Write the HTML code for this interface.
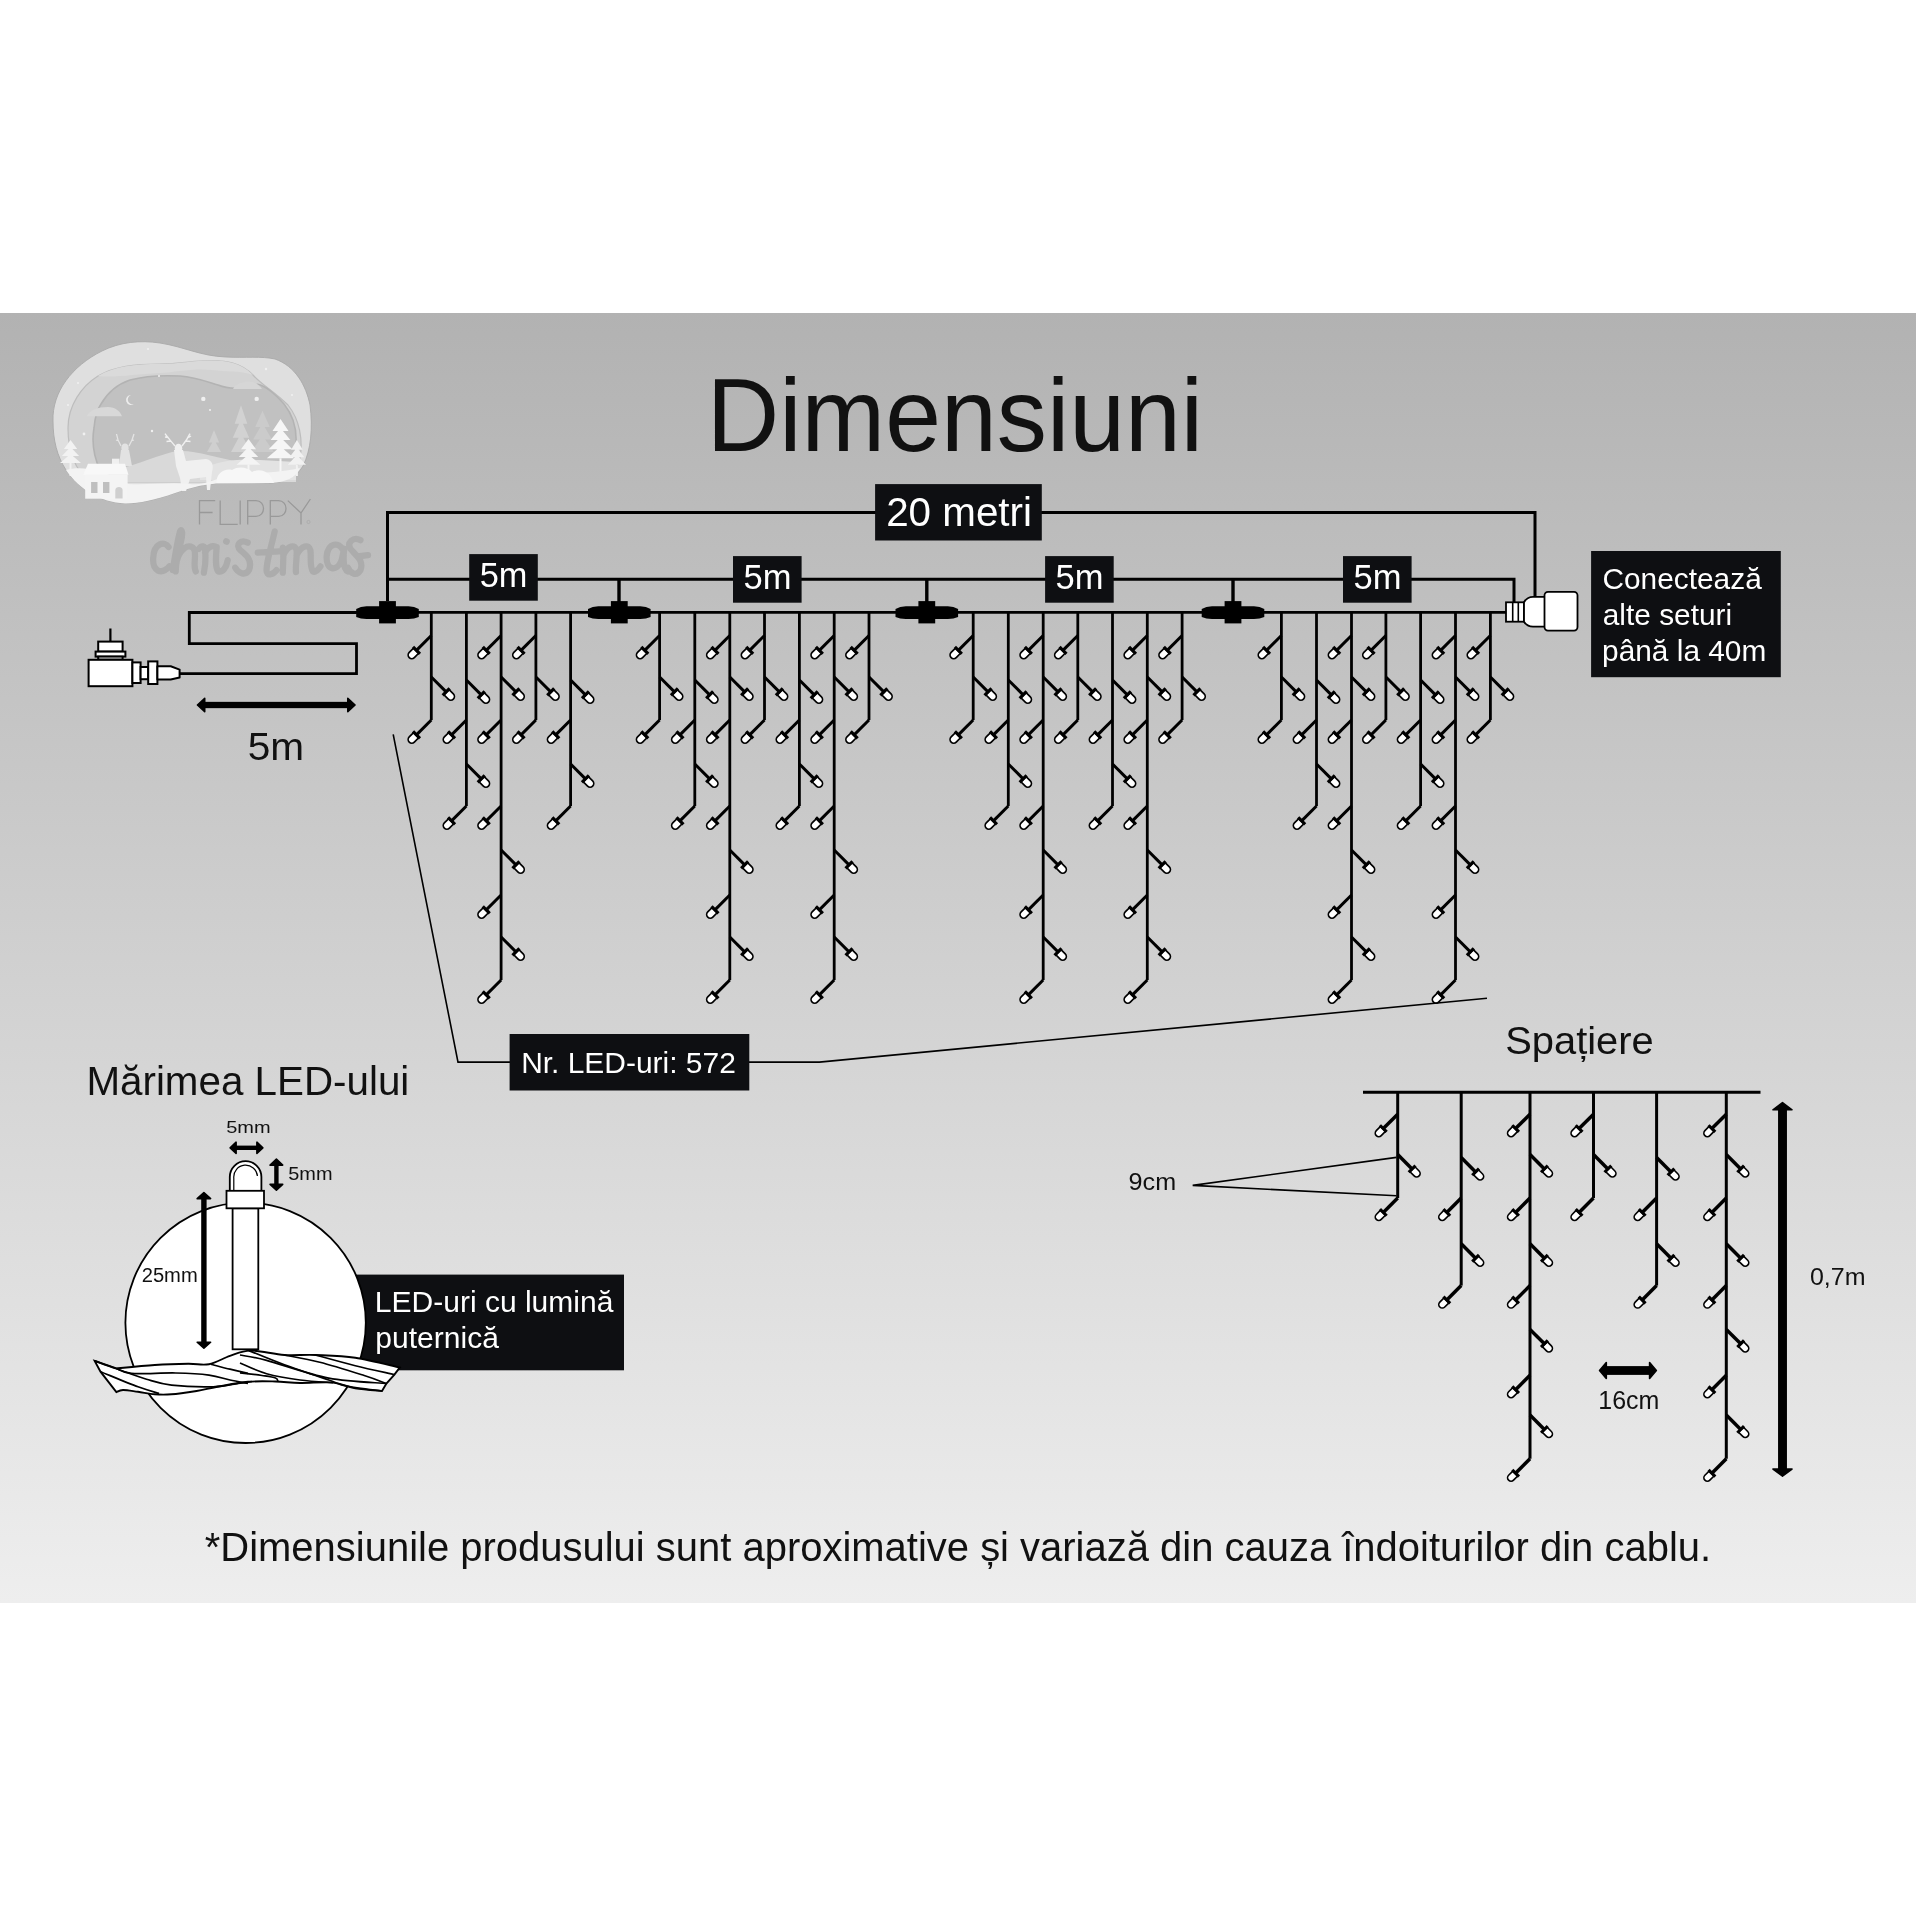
<!DOCTYPE html>
<html><head><meta charset="utf-8"><title>Dimensiuni</title>
<style>html,body{margin:0;padding:0;background:#fff;}svg{display:block;}text{font-family:"Liberation Sans",sans-serif;}svg{will-change:transform;}</style>
</head><body>
<svg width="1916" height="1916" viewBox="0 0 1916 1916">
<rect x="0" y="0" width="1916" height="1916" fill="#ffffff"/>
<defs><linearGradient id="bg" x1="0" y1="0" x2="0" y2="1"><stop offset="0" stop-color="#b2b2b2"/><stop offset="1" stop-color="#eeeeee"/></linearGradient></defs>
<rect x="0" y="313" width="1916" height="1290" fill="url(#bg)"/>
<text transform="translate(706.77,451) scale(1,1.0426)" font-size="100.378" fill="#111111" >Dimensiuni</text>
<path d="M387.5,601 V512.4 H1535 V597" fill="none" stroke="#000000" stroke-width="3"/>
<path d="M387.5,579.2 H1514 V602" fill="none" stroke="#000000" stroke-width="3"/>
<line x1="619" y1="579" x2="619" y2="602" stroke="#000000" stroke-width="3.4"/>
<line x1="926.8" y1="579" x2="926.8" y2="602" stroke="#000000" stroke-width="3.4"/>
<line x1="1233" y1="579" x2="1233" y2="602" stroke="#000000" stroke-width="3.4"/>
<rect x="875.1" y="484.1" width="166.7" height="56.4" fill="#0e0f12"/>
<text transform="translate(886.17,526.4) scale(1,1.0074)" font-size="40.376" fill="#ffffff" >20 metri</text>
<rect x="469.2" y="554.1" width="68.6" height="46.6" fill="#0e0f12"/>
<text transform="translate(479.72,587) scale(1,1.0024)" font-size="34.367" fill="#ffffff" >5m</text>
<rect x="733" y="556.1" width="68.6" height="46.6" fill="#0e0f12"/>
<text transform="translate(743.62,589.1) scale(1,0.9978)" font-size="34.523" fill="#ffffff" >5m</text>
<rect x="1045.1" y="556.1" width="68.6" height="46.6" fill="#0e0f12"/>
<text transform="translate(1055.52,589.1) scale(1,0.9978)" font-size="34.523" fill="#ffffff" >5m</text>
<rect x="1343" y="556.1" width="68.6" height="46.6" fill="#0e0f12"/>
<text transform="translate(1353.62,589.1) scale(1,0.9978)" font-size="34.523" fill="#ffffff" >5m</text>
<line x1="350" y1="612.4" x2="1506" y2="612.4" stroke="#000000" stroke-width="2.9"/>
<path d="M356.5,612.5 H189.3 V643.6 H356.5 V673.6 H178" fill="none" stroke="#000000" stroke-width="2.8"/>
<path d="M356.2,609 Q360.5,606.2 366.5,606.2 H408.5 Q414.5,606.2 418.8,609 V617 Q414.5,618.9 408.5,618.9 H366.5 Q360.5,618.9 356.2,617 Z" fill="#000000"/>
<rect x="379.1" y="601.1" width="16.8" height="22.3" fill="#000000"/>
<path d="M588.0,609 Q592.3,606.2 598.3,606.2 H640.3 Q646.3,606.2 650.5999999999999,609 V617 Q646.3,618.9 640.3,618.9 H598.3 Q592.3,618.9 588.0,617 Z" fill="#000000"/>
<rect x="610.9" y="601.1" width="16.8" height="22.3" fill="#000000"/>
<path d="M895.5,609 Q899.8,606.2 905.8,606.2 H947.8 Q953.8,606.2 958.0999999999999,609 V617 Q953.8,618.9 947.8,618.9 H905.8 Q899.8,618.9 895.5,617 Z" fill="#000000"/>
<rect x="918.4" y="601.1" width="16.8" height="22.3" fill="#000000"/>
<path d="M1201.7,609 Q1206,606.2 1212,606.2 H1254 Q1260,606.2 1264.3,609 V617 Q1260,618.9 1254,618.9 H1212 Q1206,618.9 1201.7,617 Z" fill="#000000"/>
<rect x="1224.6" y="601.1" width="16.8" height="22.3" fill="#000000"/>
<line x1="431.3" y1="612.4" x2="431.3" y2="720" stroke="#000000" stroke-width="2.8"/>
<g transform="translate(431.3,635.5) rotate(135) scale(1.0)"><line x1="0" y1="0" x2="21" y2="0" stroke="#000000" stroke-width="3"/><path d="M21.5,-3.6 H27.6 A3.6,3.6 0 0 1 27.6,3.6 H21.5 Z" fill="#fff" stroke="#000000" stroke-width="1.7"/><rect x="19.4" y="-4.9" width="3.2" height="9.8" fill="#000000"/></g>
<g transform="translate(431.3,677) rotate(45) scale(1.0)"><line x1="0" y1="0" x2="21" y2="0" stroke="#000000" stroke-width="3"/><path d="M21.5,-3.6 H27.6 A3.6,3.6 0 0 1 27.6,3.6 H21.5 Z" fill="#fff" stroke="#000000" stroke-width="1.7"/><rect x="19.4" y="-4.9" width="3.2" height="9.8" fill="#000000"/></g>
<g transform="translate(431.3,720) rotate(135) scale(1.0)"><line x1="0" y1="0" x2="21" y2="0" stroke="#000000" stroke-width="3"/><path d="M21.5,-3.6 H27.6 A3.6,3.6 0 0 1 27.6,3.6 H21.5 Z" fill="#fff" stroke="#000000" stroke-width="1.7"/><rect x="19.4" y="-4.9" width="3.2" height="9.8" fill="#000000"/></g>
<line x1="466.4" y1="612.4" x2="466.4" y2="806" stroke="#000000" stroke-width="2.8"/>
<g transform="translate(466.4,680) rotate(45) scale(1.0)"><line x1="0" y1="0" x2="21" y2="0" stroke="#000000" stroke-width="3"/><path d="M21.5,-3.6 H27.6 A3.6,3.6 0 0 1 27.6,3.6 H21.5 Z" fill="#fff" stroke="#000000" stroke-width="1.7"/><rect x="19.4" y="-4.9" width="3.2" height="9.8" fill="#000000"/></g>
<g transform="translate(466.4,720) rotate(135) scale(1.0)"><line x1="0" y1="0" x2="21" y2="0" stroke="#000000" stroke-width="3"/><path d="M21.5,-3.6 H27.6 A3.6,3.6 0 0 1 27.6,3.6 H21.5 Z" fill="#fff" stroke="#000000" stroke-width="1.7"/><rect x="19.4" y="-4.9" width="3.2" height="9.8" fill="#000000"/></g>
<g transform="translate(466.4,764) rotate(45) scale(1.0)"><line x1="0" y1="0" x2="21" y2="0" stroke="#000000" stroke-width="3"/><path d="M21.5,-3.6 H27.6 A3.6,3.6 0 0 1 27.6,3.6 H21.5 Z" fill="#fff" stroke="#000000" stroke-width="1.7"/><rect x="19.4" y="-4.9" width="3.2" height="9.8" fill="#000000"/></g>
<g transform="translate(466.4,806) rotate(135) scale(1.0)"><line x1="0" y1="0" x2="21" y2="0" stroke="#000000" stroke-width="3"/><path d="M21.5,-3.6 H27.6 A3.6,3.6 0 0 1 27.6,3.6 H21.5 Z" fill="#fff" stroke="#000000" stroke-width="1.7"/><rect x="19.4" y="-4.9" width="3.2" height="9.8" fill="#000000"/></g>
<line x1="501.1" y1="612.4" x2="501.1" y2="980" stroke="#000000" stroke-width="2.8"/>
<g transform="translate(501.1,635.5) rotate(135) scale(1.0)"><line x1="0" y1="0" x2="21" y2="0" stroke="#000000" stroke-width="3"/><path d="M21.5,-3.6 H27.6 A3.6,3.6 0 0 1 27.6,3.6 H21.5 Z" fill="#fff" stroke="#000000" stroke-width="1.7"/><rect x="19.4" y="-4.9" width="3.2" height="9.8" fill="#000000"/></g>
<g transform="translate(501.1,677) rotate(45) scale(1.0)"><line x1="0" y1="0" x2="21" y2="0" stroke="#000000" stroke-width="3"/><path d="M21.5,-3.6 H27.6 A3.6,3.6 0 0 1 27.6,3.6 H21.5 Z" fill="#fff" stroke="#000000" stroke-width="1.7"/><rect x="19.4" y="-4.9" width="3.2" height="9.8" fill="#000000"/></g>
<g transform="translate(501.1,720) rotate(135) scale(1.0)"><line x1="0" y1="0" x2="21" y2="0" stroke="#000000" stroke-width="3"/><path d="M21.5,-3.6 H27.6 A3.6,3.6 0 0 1 27.6,3.6 H21.5 Z" fill="#fff" stroke="#000000" stroke-width="1.7"/><rect x="19.4" y="-4.9" width="3.2" height="9.8" fill="#000000"/></g>
<g transform="translate(501.1,806) rotate(135) scale(1.0)"><line x1="0" y1="0" x2="21" y2="0" stroke="#000000" stroke-width="3"/><path d="M21.5,-3.6 H27.6 A3.6,3.6 0 0 1 27.6,3.6 H21.5 Z" fill="#fff" stroke="#000000" stroke-width="1.7"/><rect x="19.4" y="-4.9" width="3.2" height="9.8" fill="#000000"/></g>
<g transform="translate(501.1,850) rotate(45) scale(1.0)"><line x1="0" y1="0" x2="21" y2="0" stroke="#000000" stroke-width="3"/><path d="M21.5,-3.6 H27.6 A3.6,3.6 0 0 1 27.6,3.6 H21.5 Z" fill="#fff" stroke="#000000" stroke-width="1.7"/><rect x="19.4" y="-4.9" width="3.2" height="9.8" fill="#000000"/></g>
<g transform="translate(501.1,895) rotate(135) scale(1.0)"><line x1="0" y1="0" x2="21" y2="0" stroke="#000000" stroke-width="3"/><path d="M21.5,-3.6 H27.6 A3.6,3.6 0 0 1 27.6,3.6 H21.5 Z" fill="#fff" stroke="#000000" stroke-width="1.7"/><rect x="19.4" y="-4.9" width="3.2" height="9.8" fill="#000000"/></g>
<g transform="translate(501.1,937) rotate(45) scale(1.0)"><line x1="0" y1="0" x2="21" y2="0" stroke="#000000" stroke-width="3"/><path d="M21.5,-3.6 H27.6 A3.6,3.6 0 0 1 27.6,3.6 H21.5 Z" fill="#fff" stroke="#000000" stroke-width="1.7"/><rect x="19.4" y="-4.9" width="3.2" height="9.8" fill="#000000"/></g>
<g transform="translate(501.1,980) rotate(135) scale(1.0)"><line x1="0" y1="0" x2="21" y2="0" stroke="#000000" stroke-width="3"/><path d="M21.5,-3.6 H27.6 A3.6,3.6 0 0 1 27.6,3.6 H21.5 Z" fill="#fff" stroke="#000000" stroke-width="1.7"/><rect x="19.4" y="-4.9" width="3.2" height="9.8" fill="#000000"/></g>
<line x1="535.9" y1="612.4" x2="535.9" y2="720" stroke="#000000" stroke-width="2.8"/>
<g transform="translate(535.9,635.5) rotate(135) scale(1.0)"><line x1="0" y1="0" x2="21" y2="0" stroke="#000000" stroke-width="3"/><path d="M21.5,-3.6 H27.6 A3.6,3.6 0 0 1 27.6,3.6 H21.5 Z" fill="#fff" stroke="#000000" stroke-width="1.7"/><rect x="19.4" y="-4.9" width="3.2" height="9.8" fill="#000000"/></g>
<g transform="translate(535.9,677) rotate(45) scale(1.0)"><line x1="0" y1="0" x2="21" y2="0" stroke="#000000" stroke-width="3"/><path d="M21.5,-3.6 H27.6 A3.6,3.6 0 0 1 27.6,3.6 H21.5 Z" fill="#fff" stroke="#000000" stroke-width="1.7"/><rect x="19.4" y="-4.9" width="3.2" height="9.8" fill="#000000"/></g>
<g transform="translate(535.9,720) rotate(135) scale(1.0)"><line x1="0" y1="0" x2="21" y2="0" stroke="#000000" stroke-width="3"/><path d="M21.5,-3.6 H27.6 A3.6,3.6 0 0 1 27.6,3.6 H21.5 Z" fill="#fff" stroke="#000000" stroke-width="1.7"/><rect x="19.4" y="-4.9" width="3.2" height="9.8" fill="#000000"/></g>
<line x1="570.6" y1="612.4" x2="570.6" y2="806" stroke="#000000" stroke-width="2.8"/>
<g transform="translate(570.6,680) rotate(45) scale(1.0)"><line x1="0" y1="0" x2="21" y2="0" stroke="#000000" stroke-width="3"/><path d="M21.5,-3.6 H27.6 A3.6,3.6 0 0 1 27.6,3.6 H21.5 Z" fill="#fff" stroke="#000000" stroke-width="1.7"/><rect x="19.4" y="-4.9" width="3.2" height="9.8" fill="#000000"/></g>
<g transform="translate(570.6,720) rotate(135) scale(1.0)"><line x1="0" y1="0" x2="21" y2="0" stroke="#000000" stroke-width="3"/><path d="M21.5,-3.6 H27.6 A3.6,3.6 0 0 1 27.6,3.6 H21.5 Z" fill="#fff" stroke="#000000" stroke-width="1.7"/><rect x="19.4" y="-4.9" width="3.2" height="9.8" fill="#000000"/></g>
<g transform="translate(570.6,764) rotate(45) scale(1.0)"><line x1="0" y1="0" x2="21" y2="0" stroke="#000000" stroke-width="3"/><path d="M21.5,-3.6 H27.6 A3.6,3.6 0 0 1 27.6,3.6 H21.5 Z" fill="#fff" stroke="#000000" stroke-width="1.7"/><rect x="19.4" y="-4.9" width="3.2" height="9.8" fill="#000000"/></g>
<g transform="translate(570.6,806) rotate(135) scale(1.0)"><line x1="0" y1="0" x2="21" y2="0" stroke="#000000" stroke-width="3"/><path d="M21.5,-3.6 H27.6 A3.6,3.6 0 0 1 27.6,3.6 H21.5 Z" fill="#fff" stroke="#000000" stroke-width="1.7"/><rect x="19.4" y="-4.9" width="3.2" height="9.8" fill="#000000"/></g>
<line x1="659.6" y1="612.4" x2="659.6" y2="720" stroke="#000000" stroke-width="2.8"/>
<g transform="translate(659.6,635.5) rotate(135) scale(1.0)"><line x1="0" y1="0" x2="21" y2="0" stroke="#000000" stroke-width="3"/><path d="M21.5,-3.6 H27.6 A3.6,3.6 0 0 1 27.6,3.6 H21.5 Z" fill="#fff" stroke="#000000" stroke-width="1.7"/><rect x="19.4" y="-4.9" width="3.2" height="9.8" fill="#000000"/></g>
<g transform="translate(659.6,677) rotate(45) scale(1.0)"><line x1="0" y1="0" x2="21" y2="0" stroke="#000000" stroke-width="3"/><path d="M21.5,-3.6 H27.6 A3.6,3.6 0 0 1 27.6,3.6 H21.5 Z" fill="#fff" stroke="#000000" stroke-width="1.7"/><rect x="19.4" y="-4.9" width="3.2" height="9.8" fill="#000000"/></g>
<g transform="translate(659.6,720) rotate(135) scale(1.0)"><line x1="0" y1="0" x2="21" y2="0" stroke="#000000" stroke-width="3"/><path d="M21.5,-3.6 H27.6 A3.6,3.6 0 0 1 27.6,3.6 H21.5 Z" fill="#fff" stroke="#000000" stroke-width="1.7"/><rect x="19.4" y="-4.9" width="3.2" height="9.8" fill="#000000"/></g>
<line x1="694.8" y1="612.4" x2="694.8" y2="806" stroke="#000000" stroke-width="2.8"/>
<g transform="translate(694.8,680) rotate(45) scale(1.0)"><line x1="0" y1="0" x2="21" y2="0" stroke="#000000" stroke-width="3"/><path d="M21.5,-3.6 H27.6 A3.6,3.6 0 0 1 27.6,3.6 H21.5 Z" fill="#fff" stroke="#000000" stroke-width="1.7"/><rect x="19.4" y="-4.9" width="3.2" height="9.8" fill="#000000"/></g>
<g transform="translate(694.8,720) rotate(135) scale(1.0)"><line x1="0" y1="0" x2="21" y2="0" stroke="#000000" stroke-width="3"/><path d="M21.5,-3.6 H27.6 A3.6,3.6 0 0 1 27.6,3.6 H21.5 Z" fill="#fff" stroke="#000000" stroke-width="1.7"/><rect x="19.4" y="-4.9" width="3.2" height="9.8" fill="#000000"/></g>
<g transform="translate(694.8,764) rotate(45) scale(1.0)"><line x1="0" y1="0" x2="21" y2="0" stroke="#000000" stroke-width="3"/><path d="M21.5,-3.6 H27.6 A3.6,3.6 0 0 1 27.6,3.6 H21.5 Z" fill="#fff" stroke="#000000" stroke-width="1.7"/><rect x="19.4" y="-4.9" width="3.2" height="9.8" fill="#000000"/></g>
<g transform="translate(694.8,806) rotate(135) scale(1.0)"><line x1="0" y1="0" x2="21" y2="0" stroke="#000000" stroke-width="3"/><path d="M21.5,-3.6 H27.6 A3.6,3.6 0 0 1 27.6,3.6 H21.5 Z" fill="#fff" stroke="#000000" stroke-width="1.7"/><rect x="19.4" y="-4.9" width="3.2" height="9.8" fill="#000000"/></g>
<line x1="729.8" y1="612.4" x2="729.8" y2="980" stroke="#000000" stroke-width="2.8"/>
<g transform="translate(729.8,635.5) rotate(135) scale(1.0)"><line x1="0" y1="0" x2="21" y2="0" stroke="#000000" stroke-width="3"/><path d="M21.5,-3.6 H27.6 A3.6,3.6 0 0 1 27.6,3.6 H21.5 Z" fill="#fff" stroke="#000000" stroke-width="1.7"/><rect x="19.4" y="-4.9" width="3.2" height="9.8" fill="#000000"/></g>
<g transform="translate(729.8,677) rotate(45) scale(1.0)"><line x1="0" y1="0" x2="21" y2="0" stroke="#000000" stroke-width="3"/><path d="M21.5,-3.6 H27.6 A3.6,3.6 0 0 1 27.6,3.6 H21.5 Z" fill="#fff" stroke="#000000" stroke-width="1.7"/><rect x="19.4" y="-4.9" width="3.2" height="9.8" fill="#000000"/></g>
<g transform="translate(729.8,720) rotate(135) scale(1.0)"><line x1="0" y1="0" x2="21" y2="0" stroke="#000000" stroke-width="3"/><path d="M21.5,-3.6 H27.6 A3.6,3.6 0 0 1 27.6,3.6 H21.5 Z" fill="#fff" stroke="#000000" stroke-width="1.7"/><rect x="19.4" y="-4.9" width="3.2" height="9.8" fill="#000000"/></g>
<g transform="translate(729.8,806) rotate(135) scale(1.0)"><line x1="0" y1="0" x2="21" y2="0" stroke="#000000" stroke-width="3"/><path d="M21.5,-3.6 H27.6 A3.6,3.6 0 0 1 27.6,3.6 H21.5 Z" fill="#fff" stroke="#000000" stroke-width="1.7"/><rect x="19.4" y="-4.9" width="3.2" height="9.8" fill="#000000"/></g>
<g transform="translate(729.8,850) rotate(45) scale(1.0)"><line x1="0" y1="0" x2="21" y2="0" stroke="#000000" stroke-width="3"/><path d="M21.5,-3.6 H27.6 A3.6,3.6 0 0 1 27.6,3.6 H21.5 Z" fill="#fff" stroke="#000000" stroke-width="1.7"/><rect x="19.4" y="-4.9" width="3.2" height="9.8" fill="#000000"/></g>
<g transform="translate(729.8,895) rotate(135) scale(1.0)"><line x1="0" y1="0" x2="21" y2="0" stroke="#000000" stroke-width="3"/><path d="M21.5,-3.6 H27.6 A3.6,3.6 0 0 1 27.6,3.6 H21.5 Z" fill="#fff" stroke="#000000" stroke-width="1.7"/><rect x="19.4" y="-4.9" width="3.2" height="9.8" fill="#000000"/></g>
<g transform="translate(729.8,937) rotate(45) scale(1.0)"><line x1="0" y1="0" x2="21" y2="0" stroke="#000000" stroke-width="3"/><path d="M21.5,-3.6 H27.6 A3.6,3.6 0 0 1 27.6,3.6 H21.5 Z" fill="#fff" stroke="#000000" stroke-width="1.7"/><rect x="19.4" y="-4.9" width="3.2" height="9.8" fill="#000000"/></g>
<g transform="translate(729.8,980) rotate(135) scale(1.0)"><line x1="0" y1="0" x2="21" y2="0" stroke="#000000" stroke-width="3"/><path d="M21.5,-3.6 H27.6 A3.6,3.6 0 0 1 27.6,3.6 H21.5 Z" fill="#fff" stroke="#000000" stroke-width="1.7"/><rect x="19.4" y="-4.9" width="3.2" height="9.8" fill="#000000"/></g>
<line x1="764.5" y1="612.4" x2="764.5" y2="720" stroke="#000000" stroke-width="2.8"/>
<g transform="translate(764.5,635.5) rotate(135) scale(1.0)"><line x1="0" y1="0" x2="21" y2="0" stroke="#000000" stroke-width="3"/><path d="M21.5,-3.6 H27.6 A3.6,3.6 0 0 1 27.6,3.6 H21.5 Z" fill="#fff" stroke="#000000" stroke-width="1.7"/><rect x="19.4" y="-4.9" width="3.2" height="9.8" fill="#000000"/></g>
<g transform="translate(764.5,677) rotate(45) scale(1.0)"><line x1="0" y1="0" x2="21" y2="0" stroke="#000000" stroke-width="3"/><path d="M21.5,-3.6 H27.6 A3.6,3.6 0 0 1 27.6,3.6 H21.5 Z" fill="#fff" stroke="#000000" stroke-width="1.7"/><rect x="19.4" y="-4.9" width="3.2" height="9.8" fill="#000000"/></g>
<g transform="translate(764.5,720) rotate(135) scale(1.0)"><line x1="0" y1="0" x2="21" y2="0" stroke="#000000" stroke-width="3"/><path d="M21.5,-3.6 H27.6 A3.6,3.6 0 0 1 27.6,3.6 H21.5 Z" fill="#fff" stroke="#000000" stroke-width="1.7"/><rect x="19.4" y="-4.9" width="3.2" height="9.8" fill="#000000"/></g>
<line x1="799.4" y1="612.4" x2="799.4" y2="806" stroke="#000000" stroke-width="2.8"/>
<g transform="translate(799.4,680) rotate(45) scale(1.0)"><line x1="0" y1="0" x2="21" y2="0" stroke="#000000" stroke-width="3"/><path d="M21.5,-3.6 H27.6 A3.6,3.6 0 0 1 27.6,3.6 H21.5 Z" fill="#fff" stroke="#000000" stroke-width="1.7"/><rect x="19.4" y="-4.9" width="3.2" height="9.8" fill="#000000"/></g>
<g transform="translate(799.4,720) rotate(135) scale(1.0)"><line x1="0" y1="0" x2="21" y2="0" stroke="#000000" stroke-width="3"/><path d="M21.5,-3.6 H27.6 A3.6,3.6 0 0 1 27.6,3.6 H21.5 Z" fill="#fff" stroke="#000000" stroke-width="1.7"/><rect x="19.4" y="-4.9" width="3.2" height="9.8" fill="#000000"/></g>
<g transform="translate(799.4,764) rotate(45) scale(1.0)"><line x1="0" y1="0" x2="21" y2="0" stroke="#000000" stroke-width="3"/><path d="M21.5,-3.6 H27.6 A3.6,3.6 0 0 1 27.6,3.6 H21.5 Z" fill="#fff" stroke="#000000" stroke-width="1.7"/><rect x="19.4" y="-4.9" width="3.2" height="9.8" fill="#000000"/></g>
<g transform="translate(799.4,806) rotate(135) scale(1.0)"><line x1="0" y1="0" x2="21" y2="0" stroke="#000000" stroke-width="3"/><path d="M21.5,-3.6 H27.6 A3.6,3.6 0 0 1 27.6,3.6 H21.5 Z" fill="#fff" stroke="#000000" stroke-width="1.7"/><rect x="19.4" y="-4.9" width="3.2" height="9.8" fill="#000000"/></g>
<line x1="834.2" y1="612.4" x2="834.2" y2="980" stroke="#000000" stroke-width="2.8"/>
<g transform="translate(834.2,635.5) rotate(135) scale(1.0)"><line x1="0" y1="0" x2="21" y2="0" stroke="#000000" stroke-width="3"/><path d="M21.5,-3.6 H27.6 A3.6,3.6 0 0 1 27.6,3.6 H21.5 Z" fill="#fff" stroke="#000000" stroke-width="1.7"/><rect x="19.4" y="-4.9" width="3.2" height="9.8" fill="#000000"/></g>
<g transform="translate(834.2,677) rotate(45) scale(1.0)"><line x1="0" y1="0" x2="21" y2="0" stroke="#000000" stroke-width="3"/><path d="M21.5,-3.6 H27.6 A3.6,3.6 0 0 1 27.6,3.6 H21.5 Z" fill="#fff" stroke="#000000" stroke-width="1.7"/><rect x="19.4" y="-4.9" width="3.2" height="9.8" fill="#000000"/></g>
<g transform="translate(834.2,720) rotate(135) scale(1.0)"><line x1="0" y1="0" x2="21" y2="0" stroke="#000000" stroke-width="3"/><path d="M21.5,-3.6 H27.6 A3.6,3.6 0 0 1 27.6,3.6 H21.5 Z" fill="#fff" stroke="#000000" stroke-width="1.7"/><rect x="19.4" y="-4.9" width="3.2" height="9.8" fill="#000000"/></g>
<g transform="translate(834.2,806) rotate(135) scale(1.0)"><line x1="0" y1="0" x2="21" y2="0" stroke="#000000" stroke-width="3"/><path d="M21.5,-3.6 H27.6 A3.6,3.6 0 0 1 27.6,3.6 H21.5 Z" fill="#fff" stroke="#000000" stroke-width="1.7"/><rect x="19.4" y="-4.9" width="3.2" height="9.8" fill="#000000"/></g>
<g transform="translate(834.2,850) rotate(45) scale(1.0)"><line x1="0" y1="0" x2="21" y2="0" stroke="#000000" stroke-width="3"/><path d="M21.5,-3.6 H27.6 A3.6,3.6 0 0 1 27.6,3.6 H21.5 Z" fill="#fff" stroke="#000000" stroke-width="1.7"/><rect x="19.4" y="-4.9" width="3.2" height="9.8" fill="#000000"/></g>
<g transform="translate(834.2,895) rotate(135) scale(1.0)"><line x1="0" y1="0" x2="21" y2="0" stroke="#000000" stroke-width="3"/><path d="M21.5,-3.6 H27.6 A3.6,3.6 0 0 1 27.6,3.6 H21.5 Z" fill="#fff" stroke="#000000" stroke-width="1.7"/><rect x="19.4" y="-4.9" width="3.2" height="9.8" fill="#000000"/></g>
<g transform="translate(834.2,937) rotate(45) scale(1.0)"><line x1="0" y1="0" x2="21" y2="0" stroke="#000000" stroke-width="3"/><path d="M21.5,-3.6 H27.6 A3.6,3.6 0 0 1 27.6,3.6 H21.5 Z" fill="#fff" stroke="#000000" stroke-width="1.7"/><rect x="19.4" y="-4.9" width="3.2" height="9.8" fill="#000000"/></g>
<g transform="translate(834.2,980) rotate(135) scale(1.0)"><line x1="0" y1="0" x2="21" y2="0" stroke="#000000" stroke-width="3"/><path d="M21.5,-3.6 H27.6 A3.6,3.6 0 0 1 27.6,3.6 H21.5 Z" fill="#fff" stroke="#000000" stroke-width="1.7"/><rect x="19.4" y="-4.9" width="3.2" height="9.8" fill="#000000"/></g>
<line x1="869" y1="612.4" x2="869" y2="720" stroke="#000000" stroke-width="2.8"/>
<g transform="translate(869,635.5) rotate(135) scale(1.0)"><line x1="0" y1="0" x2="21" y2="0" stroke="#000000" stroke-width="3"/><path d="M21.5,-3.6 H27.6 A3.6,3.6 0 0 1 27.6,3.6 H21.5 Z" fill="#fff" stroke="#000000" stroke-width="1.7"/><rect x="19.4" y="-4.9" width="3.2" height="9.8" fill="#000000"/></g>
<g transform="translate(869,677) rotate(45) scale(1.0)"><line x1="0" y1="0" x2="21" y2="0" stroke="#000000" stroke-width="3"/><path d="M21.5,-3.6 H27.6 A3.6,3.6 0 0 1 27.6,3.6 H21.5 Z" fill="#fff" stroke="#000000" stroke-width="1.7"/><rect x="19.4" y="-4.9" width="3.2" height="9.8" fill="#000000"/></g>
<g transform="translate(869,720) rotate(135) scale(1.0)"><line x1="0" y1="0" x2="21" y2="0" stroke="#000000" stroke-width="3"/><path d="M21.5,-3.6 H27.6 A3.6,3.6 0 0 1 27.6,3.6 H21.5 Z" fill="#fff" stroke="#000000" stroke-width="1.7"/><rect x="19.4" y="-4.9" width="3.2" height="9.8" fill="#000000"/></g>
<line x1="973.2" y1="612.4" x2="973.2" y2="720" stroke="#000000" stroke-width="2.8"/>
<g transform="translate(973.2,635.5) rotate(135) scale(1.0)"><line x1="0" y1="0" x2="21" y2="0" stroke="#000000" stroke-width="3"/><path d="M21.5,-3.6 H27.6 A3.6,3.6 0 0 1 27.6,3.6 H21.5 Z" fill="#fff" stroke="#000000" stroke-width="1.7"/><rect x="19.4" y="-4.9" width="3.2" height="9.8" fill="#000000"/></g>
<g transform="translate(973.2,677) rotate(45) scale(1.0)"><line x1="0" y1="0" x2="21" y2="0" stroke="#000000" stroke-width="3"/><path d="M21.5,-3.6 H27.6 A3.6,3.6 0 0 1 27.6,3.6 H21.5 Z" fill="#fff" stroke="#000000" stroke-width="1.7"/><rect x="19.4" y="-4.9" width="3.2" height="9.8" fill="#000000"/></g>
<g transform="translate(973.2,720) rotate(135) scale(1.0)"><line x1="0" y1="0" x2="21" y2="0" stroke="#000000" stroke-width="3"/><path d="M21.5,-3.6 H27.6 A3.6,3.6 0 0 1 27.6,3.6 H21.5 Z" fill="#fff" stroke="#000000" stroke-width="1.7"/><rect x="19.4" y="-4.9" width="3.2" height="9.8" fill="#000000"/></g>
<line x1="1008.3" y1="612.4" x2="1008.3" y2="806" stroke="#000000" stroke-width="2.8"/>
<g transform="translate(1008.3,680) rotate(45) scale(1.0)"><line x1="0" y1="0" x2="21" y2="0" stroke="#000000" stroke-width="3"/><path d="M21.5,-3.6 H27.6 A3.6,3.6 0 0 1 27.6,3.6 H21.5 Z" fill="#fff" stroke="#000000" stroke-width="1.7"/><rect x="19.4" y="-4.9" width="3.2" height="9.8" fill="#000000"/></g>
<g transform="translate(1008.3,720) rotate(135) scale(1.0)"><line x1="0" y1="0" x2="21" y2="0" stroke="#000000" stroke-width="3"/><path d="M21.5,-3.6 H27.6 A3.6,3.6 0 0 1 27.6,3.6 H21.5 Z" fill="#fff" stroke="#000000" stroke-width="1.7"/><rect x="19.4" y="-4.9" width="3.2" height="9.8" fill="#000000"/></g>
<g transform="translate(1008.3,764) rotate(45) scale(1.0)"><line x1="0" y1="0" x2="21" y2="0" stroke="#000000" stroke-width="3"/><path d="M21.5,-3.6 H27.6 A3.6,3.6 0 0 1 27.6,3.6 H21.5 Z" fill="#fff" stroke="#000000" stroke-width="1.7"/><rect x="19.4" y="-4.9" width="3.2" height="9.8" fill="#000000"/></g>
<g transform="translate(1008.3,806) rotate(135) scale(1.0)"><line x1="0" y1="0" x2="21" y2="0" stroke="#000000" stroke-width="3"/><path d="M21.5,-3.6 H27.6 A3.6,3.6 0 0 1 27.6,3.6 H21.5 Z" fill="#fff" stroke="#000000" stroke-width="1.7"/><rect x="19.4" y="-4.9" width="3.2" height="9.8" fill="#000000"/></g>
<line x1="1043.2" y1="612.4" x2="1043.2" y2="980" stroke="#000000" stroke-width="2.8"/>
<g transform="translate(1043.2,635.5) rotate(135) scale(1.0)"><line x1="0" y1="0" x2="21" y2="0" stroke="#000000" stroke-width="3"/><path d="M21.5,-3.6 H27.6 A3.6,3.6 0 0 1 27.6,3.6 H21.5 Z" fill="#fff" stroke="#000000" stroke-width="1.7"/><rect x="19.4" y="-4.9" width="3.2" height="9.8" fill="#000000"/></g>
<g transform="translate(1043.2,677) rotate(45) scale(1.0)"><line x1="0" y1="0" x2="21" y2="0" stroke="#000000" stroke-width="3"/><path d="M21.5,-3.6 H27.6 A3.6,3.6 0 0 1 27.6,3.6 H21.5 Z" fill="#fff" stroke="#000000" stroke-width="1.7"/><rect x="19.4" y="-4.9" width="3.2" height="9.8" fill="#000000"/></g>
<g transform="translate(1043.2,720) rotate(135) scale(1.0)"><line x1="0" y1="0" x2="21" y2="0" stroke="#000000" stroke-width="3"/><path d="M21.5,-3.6 H27.6 A3.6,3.6 0 0 1 27.6,3.6 H21.5 Z" fill="#fff" stroke="#000000" stroke-width="1.7"/><rect x="19.4" y="-4.9" width="3.2" height="9.8" fill="#000000"/></g>
<g transform="translate(1043.2,806) rotate(135) scale(1.0)"><line x1="0" y1="0" x2="21" y2="0" stroke="#000000" stroke-width="3"/><path d="M21.5,-3.6 H27.6 A3.6,3.6 0 0 1 27.6,3.6 H21.5 Z" fill="#fff" stroke="#000000" stroke-width="1.7"/><rect x="19.4" y="-4.9" width="3.2" height="9.8" fill="#000000"/></g>
<g transform="translate(1043.2,850) rotate(45) scale(1.0)"><line x1="0" y1="0" x2="21" y2="0" stroke="#000000" stroke-width="3"/><path d="M21.5,-3.6 H27.6 A3.6,3.6 0 0 1 27.6,3.6 H21.5 Z" fill="#fff" stroke="#000000" stroke-width="1.7"/><rect x="19.4" y="-4.9" width="3.2" height="9.8" fill="#000000"/></g>
<g transform="translate(1043.2,895) rotate(135) scale(1.0)"><line x1="0" y1="0" x2="21" y2="0" stroke="#000000" stroke-width="3"/><path d="M21.5,-3.6 H27.6 A3.6,3.6 0 0 1 27.6,3.6 H21.5 Z" fill="#fff" stroke="#000000" stroke-width="1.7"/><rect x="19.4" y="-4.9" width="3.2" height="9.8" fill="#000000"/></g>
<g transform="translate(1043.2,937) rotate(45) scale(1.0)"><line x1="0" y1="0" x2="21" y2="0" stroke="#000000" stroke-width="3"/><path d="M21.5,-3.6 H27.6 A3.6,3.6 0 0 1 27.6,3.6 H21.5 Z" fill="#fff" stroke="#000000" stroke-width="1.7"/><rect x="19.4" y="-4.9" width="3.2" height="9.8" fill="#000000"/></g>
<g transform="translate(1043.2,980) rotate(135) scale(1.0)"><line x1="0" y1="0" x2="21" y2="0" stroke="#000000" stroke-width="3"/><path d="M21.5,-3.6 H27.6 A3.6,3.6 0 0 1 27.6,3.6 H21.5 Z" fill="#fff" stroke="#000000" stroke-width="1.7"/><rect x="19.4" y="-4.9" width="3.2" height="9.8" fill="#000000"/></g>
<line x1="1077.8" y1="612.4" x2="1077.8" y2="720" stroke="#000000" stroke-width="2.8"/>
<g transform="translate(1077.8,635.5) rotate(135) scale(1.0)"><line x1="0" y1="0" x2="21" y2="0" stroke="#000000" stroke-width="3"/><path d="M21.5,-3.6 H27.6 A3.6,3.6 0 0 1 27.6,3.6 H21.5 Z" fill="#fff" stroke="#000000" stroke-width="1.7"/><rect x="19.4" y="-4.9" width="3.2" height="9.8" fill="#000000"/></g>
<g transform="translate(1077.8,677) rotate(45) scale(1.0)"><line x1="0" y1="0" x2="21" y2="0" stroke="#000000" stroke-width="3"/><path d="M21.5,-3.6 H27.6 A3.6,3.6 0 0 1 27.6,3.6 H21.5 Z" fill="#fff" stroke="#000000" stroke-width="1.7"/><rect x="19.4" y="-4.9" width="3.2" height="9.8" fill="#000000"/></g>
<g transform="translate(1077.8,720) rotate(135) scale(1.0)"><line x1="0" y1="0" x2="21" y2="0" stroke="#000000" stroke-width="3"/><path d="M21.5,-3.6 H27.6 A3.6,3.6 0 0 1 27.6,3.6 H21.5 Z" fill="#fff" stroke="#000000" stroke-width="1.7"/><rect x="19.4" y="-4.9" width="3.2" height="9.8" fill="#000000"/></g>
<line x1="1112.5" y1="612.4" x2="1112.5" y2="806" stroke="#000000" stroke-width="2.8"/>
<g transform="translate(1112.5,680) rotate(45) scale(1.0)"><line x1="0" y1="0" x2="21" y2="0" stroke="#000000" stroke-width="3"/><path d="M21.5,-3.6 H27.6 A3.6,3.6 0 0 1 27.6,3.6 H21.5 Z" fill="#fff" stroke="#000000" stroke-width="1.7"/><rect x="19.4" y="-4.9" width="3.2" height="9.8" fill="#000000"/></g>
<g transform="translate(1112.5,720) rotate(135) scale(1.0)"><line x1="0" y1="0" x2="21" y2="0" stroke="#000000" stroke-width="3"/><path d="M21.5,-3.6 H27.6 A3.6,3.6 0 0 1 27.6,3.6 H21.5 Z" fill="#fff" stroke="#000000" stroke-width="1.7"/><rect x="19.4" y="-4.9" width="3.2" height="9.8" fill="#000000"/></g>
<g transform="translate(1112.5,764) rotate(45) scale(1.0)"><line x1="0" y1="0" x2="21" y2="0" stroke="#000000" stroke-width="3"/><path d="M21.5,-3.6 H27.6 A3.6,3.6 0 0 1 27.6,3.6 H21.5 Z" fill="#fff" stroke="#000000" stroke-width="1.7"/><rect x="19.4" y="-4.9" width="3.2" height="9.8" fill="#000000"/></g>
<g transform="translate(1112.5,806) rotate(135) scale(1.0)"><line x1="0" y1="0" x2="21" y2="0" stroke="#000000" stroke-width="3"/><path d="M21.5,-3.6 H27.6 A3.6,3.6 0 0 1 27.6,3.6 H21.5 Z" fill="#fff" stroke="#000000" stroke-width="1.7"/><rect x="19.4" y="-4.9" width="3.2" height="9.8" fill="#000000"/></g>
<line x1="1147.3" y1="612.4" x2="1147.3" y2="980" stroke="#000000" stroke-width="2.8"/>
<g transform="translate(1147.3,635.5) rotate(135) scale(1.0)"><line x1="0" y1="0" x2="21" y2="0" stroke="#000000" stroke-width="3"/><path d="M21.5,-3.6 H27.6 A3.6,3.6 0 0 1 27.6,3.6 H21.5 Z" fill="#fff" stroke="#000000" stroke-width="1.7"/><rect x="19.4" y="-4.9" width="3.2" height="9.8" fill="#000000"/></g>
<g transform="translate(1147.3,677) rotate(45) scale(1.0)"><line x1="0" y1="0" x2="21" y2="0" stroke="#000000" stroke-width="3"/><path d="M21.5,-3.6 H27.6 A3.6,3.6 0 0 1 27.6,3.6 H21.5 Z" fill="#fff" stroke="#000000" stroke-width="1.7"/><rect x="19.4" y="-4.9" width="3.2" height="9.8" fill="#000000"/></g>
<g transform="translate(1147.3,720) rotate(135) scale(1.0)"><line x1="0" y1="0" x2="21" y2="0" stroke="#000000" stroke-width="3"/><path d="M21.5,-3.6 H27.6 A3.6,3.6 0 0 1 27.6,3.6 H21.5 Z" fill="#fff" stroke="#000000" stroke-width="1.7"/><rect x="19.4" y="-4.9" width="3.2" height="9.8" fill="#000000"/></g>
<g transform="translate(1147.3,806) rotate(135) scale(1.0)"><line x1="0" y1="0" x2="21" y2="0" stroke="#000000" stroke-width="3"/><path d="M21.5,-3.6 H27.6 A3.6,3.6 0 0 1 27.6,3.6 H21.5 Z" fill="#fff" stroke="#000000" stroke-width="1.7"/><rect x="19.4" y="-4.9" width="3.2" height="9.8" fill="#000000"/></g>
<g transform="translate(1147.3,850) rotate(45) scale(1.0)"><line x1="0" y1="0" x2="21" y2="0" stroke="#000000" stroke-width="3"/><path d="M21.5,-3.6 H27.6 A3.6,3.6 0 0 1 27.6,3.6 H21.5 Z" fill="#fff" stroke="#000000" stroke-width="1.7"/><rect x="19.4" y="-4.9" width="3.2" height="9.8" fill="#000000"/></g>
<g transform="translate(1147.3,895) rotate(135) scale(1.0)"><line x1="0" y1="0" x2="21" y2="0" stroke="#000000" stroke-width="3"/><path d="M21.5,-3.6 H27.6 A3.6,3.6 0 0 1 27.6,3.6 H21.5 Z" fill="#fff" stroke="#000000" stroke-width="1.7"/><rect x="19.4" y="-4.9" width="3.2" height="9.8" fill="#000000"/></g>
<g transform="translate(1147.3,937) rotate(45) scale(1.0)"><line x1="0" y1="0" x2="21" y2="0" stroke="#000000" stroke-width="3"/><path d="M21.5,-3.6 H27.6 A3.6,3.6 0 0 1 27.6,3.6 H21.5 Z" fill="#fff" stroke="#000000" stroke-width="1.7"/><rect x="19.4" y="-4.9" width="3.2" height="9.8" fill="#000000"/></g>
<g transform="translate(1147.3,980) rotate(135) scale(1.0)"><line x1="0" y1="0" x2="21" y2="0" stroke="#000000" stroke-width="3"/><path d="M21.5,-3.6 H27.6 A3.6,3.6 0 0 1 27.6,3.6 H21.5 Z" fill="#fff" stroke="#000000" stroke-width="1.7"/><rect x="19.4" y="-4.9" width="3.2" height="9.8" fill="#000000"/></g>
<line x1="1182.1" y1="612.4" x2="1182.1" y2="720" stroke="#000000" stroke-width="2.8"/>
<g transform="translate(1182.1,635.5) rotate(135) scale(1.0)"><line x1="0" y1="0" x2="21" y2="0" stroke="#000000" stroke-width="3"/><path d="M21.5,-3.6 H27.6 A3.6,3.6 0 0 1 27.6,3.6 H21.5 Z" fill="#fff" stroke="#000000" stroke-width="1.7"/><rect x="19.4" y="-4.9" width="3.2" height="9.8" fill="#000000"/></g>
<g transform="translate(1182.1,677) rotate(45) scale(1.0)"><line x1="0" y1="0" x2="21" y2="0" stroke="#000000" stroke-width="3"/><path d="M21.5,-3.6 H27.6 A3.6,3.6 0 0 1 27.6,3.6 H21.5 Z" fill="#fff" stroke="#000000" stroke-width="1.7"/><rect x="19.4" y="-4.9" width="3.2" height="9.8" fill="#000000"/></g>
<g transform="translate(1182.1,720) rotate(135) scale(1.0)"><line x1="0" y1="0" x2="21" y2="0" stroke="#000000" stroke-width="3"/><path d="M21.5,-3.6 H27.6 A3.6,3.6 0 0 1 27.6,3.6 H21.5 Z" fill="#fff" stroke="#000000" stroke-width="1.7"/><rect x="19.4" y="-4.9" width="3.2" height="9.8" fill="#000000"/></g>
<line x1="1281.4" y1="612.4" x2="1281.4" y2="720" stroke="#000000" stroke-width="2.8"/>
<g transform="translate(1281.4,635.5) rotate(135) scale(1.0)"><line x1="0" y1="0" x2="21" y2="0" stroke="#000000" stroke-width="3"/><path d="M21.5,-3.6 H27.6 A3.6,3.6 0 0 1 27.6,3.6 H21.5 Z" fill="#fff" stroke="#000000" stroke-width="1.7"/><rect x="19.4" y="-4.9" width="3.2" height="9.8" fill="#000000"/></g>
<g transform="translate(1281.4,677) rotate(45) scale(1.0)"><line x1="0" y1="0" x2="21" y2="0" stroke="#000000" stroke-width="3"/><path d="M21.5,-3.6 H27.6 A3.6,3.6 0 0 1 27.6,3.6 H21.5 Z" fill="#fff" stroke="#000000" stroke-width="1.7"/><rect x="19.4" y="-4.9" width="3.2" height="9.8" fill="#000000"/></g>
<g transform="translate(1281.4,720) rotate(135) scale(1.0)"><line x1="0" y1="0" x2="21" y2="0" stroke="#000000" stroke-width="3"/><path d="M21.5,-3.6 H27.6 A3.6,3.6 0 0 1 27.6,3.6 H21.5 Z" fill="#fff" stroke="#000000" stroke-width="1.7"/><rect x="19.4" y="-4.9" width="3.2" height="9.8" fill="#000000"/></g>
<line x1="1316.5" y1="612.4" x2="1316.5" y2="806" stroke="#000000" stroke-width="2.8"/>
<g transform="translate(1316.5,680) rotate(45) scale(1.0)"><line x1="0" y1="0" x2="21" y2="0" stroke="#000000" stroke-width="3"/><path d="M21.5,-3.6 H27.6 A3.6,3.6 0 0 1 27.6,3.6 H21.5 Z" fill="#fff" stroke="#000000" stroke-width="1.7"/><rect x="19.4" y="-4.9" width="3.2" height="9.8" fill="#000000"/></g>
<g transform="translate(1316.5,720) rotate(135) scale(1.0)"><line x1="0" y1="0" x2="21" y2="0" stroke="#000000" stroke-width="3"/><path d="M21.5,-3.6 H27.6 A3.6,3.6 0 0 1 27.6,3.6 H21.5 Z" fill="#fff" stroke="#000000" stroke-width="1.7"/><rect x="19.4" y="-4.9" width="3.2" height="9.8" fill="#000000"/></g>
<g transform="translate(1316.5,764) rotate(45) scale(1.0)"><line x1="0" y1="0" x2="21" y2="0" stroke="#000000" stroke-width="3"/><path d="M21.5,-3.6 H27.6 A3.6,3.6 0 0 1 27.6,3.6 H21.5 Z" fill="#fff" stroke="#000000" stroke-width="1.7"/><rect x="19.4" y="-4.9" width="3.2" height="9.8" fill="#000000"/></g>
<g transform="translate(1316.5,806) rotate(135) scale(1.0)"><line x1="0" y1="0" x2="21" y2="0" stroke="#000000" stroke-width="3"/><path d="M21.5,-3.6 H27.6 A3.6,3.6 0 0 1 27.6,3.6 H21.5 Z" fill="#fff" stroke="#000000" stroke-width="1.7"/><rect x="19.4" y="-4.9" width="3.2" height="9.8" fill="#000000"/></g>
<line x1="1351.5" y1="612.4" x2="1351.5" y2="980" stroke="#000000" stroke-width="2.8"/>
<g transform="translate(1351.5,635.5) rotate(135) scale(1.0)"><line x1="0" y1="0" x2="21" y2="0" stroke="#000000" stroke-width="3"/><path d="M21.5,-3.6 H27.6 A3.6,3.6 0 0 1 27.6,3.6 H21.5 Z" fill="#fff" stroke="#000000" stroke-width="1.7"/><rect x="19.4" y="-4.9" width="3.2" height="9.8" fill="#000000"/></g>
<g transform="translate(1351.5,677) rotate(45) scale(1.0)"><line x1="0" y1="0" x2="21" y2="0" stroke="#000000" stroke-width="3"/><path d="M21.5,-3.6 H27.6 A3.6,3.6 0 0 1 27.6,3.6 H21.5 Z" fill="#fff" stroke="#000000" stroke-width="1.7"/><rect x="19.4" y="-4.9" width="3.2" height="9.8" fill="#000000"/></g>
<g transform="translate(1351.5,720) rotate(135) scale(1.0)"><line x1="0" y1="0" x2="21" y2="0" stroke="#000000" stroke-width="3"/><path d="M21.5,-3.6 H27.6 A3.6,3.6 0 0 1 27.6,3.6 H21.5 Z" fill="#fff" stroke="#000000" stroke-width="1.7"/><rect x="19.4" y="-4.9" width="3.2" height="9.8" fill="#000000"/></g>
<g transform="translate(1351.5,806) rotate(135) scale(1.0)"><line x1="0" y1="0" x2="21" y2="0" stroke="#000000" stroke-width="3"/><path d="M21.5,-3.6 H27.6 A3.6,3.6 0 0 1 27.6,3.6 H21.5 Z" fill="#fff" stroke="#000000" stroke-width="1.7"/><rect x="19.4" y="-4.9" width="3.2" height="9.8" fill="#000000"/></g>
<g transform="translate(1351.5,850) rotate(45) scale(1.0)"><line x1="0" y1="0" x2="21" y2="0" stroke="#000000" stroke-width="3"/><path d="M21.5,-3.6 H27.6 A3.6,3.6 0 0 1 27.6,3.6 H21.5 Z" fill="#fff" stroke="#000000" stroke-width="1.7"/><rect x="19.4" y="-4.9" width="3.2" height="9.8" fill="#000000"/></g>
<g transform="translate(1351.5,895) rotate(135) scale(1.0)"><line x1="0" y1="0" x2="21" y2="0" stroke="#000000" stroke-width="3"/><path d="M21.5,-3.6 H27.6 A3.6,3.6 0 0 1 27.6,3.6 H21.5 Z" fill="#fff" stroke="#000000" stroke-width="1.7"/><rect x="19.4" y="-4.9" width="3.2" height="9.8" fill="#000000"/></g>
<g transform="translate(1351.5,937) rotate(45) scale(1.0)"><line x1="0" y1="0" x2="21" y2="0" stroke="#000000" stroke-width="3"/><path d="M21.5,-3.6 H27.6 A3.6,3.6 0 0 1 27.6,3.6 H21.5 Z" fill="#fff" stroke="#000000" stroke-width="1.7"/><rect x="19.4" y="-4.9" width="3.2" height="9.8" fill="#000000"/></g>
<g transform="translate(1351.5,980) rotate(135) scale(1.0)"><line x1="0" y1="0" x2="21" y2="0" stroke="#000000" stroke-width="3"/><path d="M21.5,-3.6 H27.6 A3.6,3.6 0 0 1 27.6,3.6 H21.5 Z" fill="#fff" stroke="#000000" stroke-width="1.7"/><rect x="19.4" y="-4.9" width="3.2" height="9.8" fill="#000000"/></g>
<line x1="1385.9" y1="612.4" x2="1385.9" y2="720" stroke="#000000" stroke-width="2.8"/>
<g transform="translate(1385.9,635.5) rotate(135) scale(1.0)"><line x1="0" y1="0" x2="21" y2="0" stroke="#000000" stroke-width="3"/><path d="M21.5,-3.6 H27.6 A3.6,3.6 0 0 1 27.6,3.6 H21.5 Z" fill="#fff" stroke="#000000" stroke-width="1.7"/><rect x="19.4" y="-4.9" width="3.2" height="9.8" fill="#000000"/></g>
<g transform="translate(1385.9,677) rotate(45) scale(1.0)"><line x1="0" y1="0" x2="21" y2="0" stroke="#000000" stroke-width="3"/><path d="M21.5,-3.6 H27.6 A3.6,3.6 0 0 1 27.6,3.6 H21.5 Z" fill="#fff" stroke="#000000" stroke-width="1.7"/><rect x="19.4" y="-4.9" width="3.2" height="9.8" fill="#000000"/></g>
<g transform="translate(1385.9,720) rotate(135) scale(1.0)"><line x1="0" y1="0" x2="21" y2="0" stroke="#000000" stroke-width="3"/><path d="M21.5,-3.6 H27.6 A3.6,3.6 0 0 1 27.6,3.6 H21.5 Z" fill="#fff" stroke="#000000" stroke-width="1.7"/><rect x="19.4" y="-4.9" width="3.2" height="9.8" fill="#000000"/></g>
<line x1="1420.6" y1="612.4" x2="1420.6" y2="806" stroke="#000000" stroke-width="2.8"/>
<g transform="translate(1420.6,680) rotate(45) scale(1.0)"><line x1="0" y1="0" x2="21" y2="0" stroke="#000000" stroke-width="3"/><path d="M21.5,-3.6 H27.6 A3.6,3.6 0 0 1 27.6,3.6 H21.5 Z" fill="#fff" stroke="#000000" stroke-width="1.7"/><rect x="19.4" y="-4.9" width="3.2" height="9.8" fill="#000000"/></g>
<g transform="translate(1420.6,720) rotate(135) scale(1.0)"><line x1="0" y1="0" x2="21" y2="0" stroke="#000000" stroke-width="3"/><path d="M21.5,-3.6 H27.6 A3.6,3.6 0 0 1 27.6,3.6 H21.5 Z" fill="#fff" stroke="#000000" stroke-width="1.7"/><rect x="19.4" y="-4.9" width="3.2" height="9.8" fill="#000000"/></g>
<g transform="translate(1420.6,764) rotate(45) scale(1.0)"><line x1="0" y1="0" x2="21" y2="0" stroke="#000000" stroke-width="3"/><path d="M21.5,-3.6 H27.6 A3.6,3.6 0 0 1 27.6,3.6 H21.5 Z" fill="#fff" stroke="#000000" stroke-width="1.7"/><rect x="19.4" y="-4.9" width="3.2" height="9.8" fill="#000000"/></g>
<g transform="translate(1420.6,806) rotate(135) scale(1.0)"><line x1="0" y1="0" x2="21" y2="0" stroke="#000000" stroke-width="3"/><path d="M21.5,-3.6 H27.6 A3.6,3.6 0 0 1 27.6,3.6 H21.5 Z" fill="#fff" stroke="#000000" stroke-width="1.7"/><rect x="19.4" y="-4.9" width="3.2" height="9.8" fill="#000000"/></g>
<line x1="1455.5" y1="612.4" x2="1455.5" y2="980" stroke="#000000" stroke-width="2.8"/>
<g transform="translate(1455.5,635.5) rotate(135) scale(1.0)"><line x1="0" y1="0" x2="21" y2="0" stroke="#000000" stroke-width="3"/><path d="M21.5,-3.6 H27.6 A3.6,3.6 0 0 1 27.6,3.6 H21.5 Z" fill="#fff" stroke="#000000" stroke-width="1.7"/><rect x="19.4" y="-4.9" width="3.2" height="9.8" fill="#000000"/></g>
<g transform="translate(1455.5,677) rotate(45) scale(1.0)"><line x1="0" y1="0" x2="21" y2="0" stroke="#000000" stroke-width="3"/><path d="M21.5,-3.6 H27.6 A3.6,3.6 0 0 1 27.6,3.6 H21.5 Z" fill="#fff" stroke="#000000" stroke-width="1.7"/><rect x="19.4" y="-4.9" width="3.2" height="9.8" fill="#000000"/></g>
<g transform="translate(1455.5,720) rotate(135) scale(1.0)"><line x1="0" y1="0" x2="21" y2="0" stroke="#000000" stroke-width="3"/><path d="M21.5,-3.6 H27.6 A3.6,3.6 0 0 1 27.6,3.6 H21.5 Z" fill="#fff" stroke="#000000" stroke-width="1.7"/><rect x="19.4" y="-4.9" width="3.2" height="9.8" fill="#000000"/></g>
<g transform="translate(1455.5,806) rotate(135) scale(1.0)"><line x1="0" y1="0" x2="21" y2="0" stroke="#000000" stroke-width="3"/><path d="M21.5,-3.6 H27.6 A3.6,3.6 0 0 1 27.6,3.6 H21.5 Z" fill="#fff" stroke="#000000" stroke-width="1.7"/><rect x="19.4" y="-4.9" width="3.2" height="9.8" fill="#000000"/></g>
<g transform="translate(1455.5,850) rotate(45) scale(1.0)"><line x1="0" y1="0" x2="21" y2="0" stroke="#000000" stroke-width="3"/><path d="M21.5,-3.6 H27.6 A3.6,3.6 0 0 1 27.6,3.6 H21.5 Z" fill="#fff" stroke="#000000" stroke-width="1.7"/><rect x="19.4" y="-4.9" width="3.2" height="9.8" fill="#000000"/></g>
<g transform="translate(1455.5,895) rotate(135) scale(1.0)"><line x1="0" y1="0" x2="21" y2="0" stroke="#000000" stroke-width="3"/><path d="M21.5,-3.6 H27.6 A3.6,3.6 0 0 1 27.6,3.6 H21.5 Z" fill="#fff" stroke="#000000" stroke-width="1.7"/><rect x="19.4" y="-4.9" width="3.2" height="9.8" fill="#000000"/></g>
<g transform="translate(1455.5,937) rotate(45) scale(1.0)"><line x1="0" y1="0" x2="21" y2="0" stroke="#000000" stroke-width="3"/><path d="M21.5,-3.6 H27.6 A3.6,3.6 0 0 1 27.6,3.6 H21.5 Z" fill="#fff" stroke="#000000" stroke-width="1.7"/><rect x="19.4" y="-4.9" width="3.2" height="9.8" fill="#000000"/></g>
<g transform="translate(1455.5,980) rotate(135) scale(1.0)"><line x1="0" y1="0" x2="21" y2="0" stroke="#000000" stroke-width="3"/><path d="M21.5,-3.6 H27.6 A3.6,3.6 0 0 1 27.6,3.6 H21.5 Z" fill="#fff" stroke="#000000" stroke-width="1.7"/><rect x="19.4" y="-4.9" width="3.2" height="9.8" fill="#000000"/></g>
<line x1="1490.4" y1="612.4" x2="1490.4" y2="720" stroke="#000000" stroke-width="2.8"/>
<g transform="translate(1490.4,635.5) rotate(135) scale(1.0)"><line x1="0" y1="0" x2="21" y2="0" stroke="#000000" stroke-width="3"/><path d="M21.5,-3.6 H27.6 A3.6,3.6 0 0 1 27.6,3.6 H21.5 Z" fill="#fff" stroke="#000000" stroke-width="1.7"/><rect x="19.4" y="-4.9" width="3.2" height="9.8" fill="#000000"/></g>
<g transform="translate(1490.4,677) rotate(45) scale(1.0)"><line x1="0" y1="0" x2="21" y2="0" stroke="#000000" stroke-width="3"/><path d="M21.5,-3.6 H27.6 A3.6,3.6 0 0 1 27.6,3.6 H21.5 Z" fill="#fff" stroke="#000000" stroke-width="1.7"/><rect x="19.4" y="-4.9" width="3.2" height="9.8" fill="#000000"/></g>
<g transform="translate(1490.4,720) rotate(135) scale(1.0)"><line x1="0" y1="0" x2="21" y2="0" stroke="#000000" stroke-width="3"/><path d="M21.5,-3.6 H27.6 A3.6,3.6 0 0 1 27.6,3.6 H21.5 Z" fill="#fff" stroke="#000000" stroke-width="1.7"/><rect x="19.4" y="-4.9" width="3.2" height="9.8" fill="#000000"/></g>
<rect x="1506" y="602.3" width="18" height="19.4" fill="#fff" stroke="#000000" stroke-width="1.8"/>
<line x1="1512.7" y1="602.3" x2="1512.7" y2="621.7" stroke="#000000" stroke-width="1.6"/>
<line x1="1518.3" y1="602.3" x2="1518.3" y2="621.7" stroke="#000000" stroke-width="1.6"/>
<path d="M1524,602.3 Q1527,596.8 1533,596.8 H1545 V626.6 H1533 Q1527,626.6 1524,621.7 Z" fill="#fff" stroke="#000000" stroke-width="1.8"/>
<rect x="1544.5" y="591.8" width="33" height="38.8" rx="3.5" fill="#fff" stroke="#000000" stroke-width="1.8"/>
<rect x="1591.1" y="551" width="189.7" height="126.2" fill="#0e0f12"/>
<text transform="translate(1602.48,588.5) scale(1,1.0171)" font-size="29.852" fill="#ffffff" >Conectează</text>
<text transform="translate(1602.73,624.5) scale(1,1.0171)" font-size="29.852" fill="#ffffff" >alte seturi</text>
<text transform="translate(1602.08,660.5) scale(1,1.0171)" font-size="29.852" fill="#ffffff" >până la 40m</text>
<line x1="110.4" y1="628.5" x2="110.4" y2="642" stroke="#000000" stroke-width="2.2"/>
<rect x="98.2" y="641.6" width="24.4" height="10" fill="#fff" stroke="#000000" stroke-width="2"/>
<rect x="95.6" y="651.6" width="29.8" height="5" fill="#fff" stroke="#000000" stroke-width="2"/>
<rect x="98.2" y="656.6" width="24.4" height="3" fill="#fff" stroke="#000000" stroke-width="2"/>
<rect x="88.6" y="659.8" width="43.8" height="26.4" fill="#fff" stroke="#000000" stroke-width="2"/>
<rect x="132.4" y="662.4" width="8.2" height="20.6" fill="#fff" stroke="#000000" stroke-width="2"/>
<rect x="140.6" y="667" width="7.6" height="12.2" fill="#fff" stroke="#000000" stroke-width="2"/>
<rect x="148.2" y="661.4" width="9.2" height="22.6" fill="#fff" stroke="#000000" stroke-width="2"/>
<path d="M157.4,666.3 H170.7 L179.6,669.6 V677.6 L170.7,679.4 H157.4 Z" fill="#fff" stroke="#000000" stroke-width="2" stroke-linejoin="round"/>
<rect x="204.5" y="701.85" width="143.5" height="6.3" fill="#000000"/>
<path d="M197.44,705 L204.7,698.28 L204.7,711.72 Z" fill="#000000" stroke="#000000" stroke-width="1.6" stroke-linejoin="round"/>
<path d="M355.06,705 L347.8,698.28 L347.8,711.72 Z" fill="#000000" stroke="#000000" stroke-width="1.6" stroke-linejoin="round"/>
<text transform="translate(247.77,760) scale(1,0.9737)" font-size="40.602" fill="#111111" >5m</text>
<path d="M393.2,734.4 L458,1062.1 H510" fill="none" stroke="#000000" stroke-width="1.6"/>
<path d="M749,1062.1 H819.4 L1487,998.3" fill="none" stroke="#000000" stroke-width="1.6"/>
<rect x="509.6" y="1034" width="239.7" height="56.5" fill="#0e0f12"/>
<text transform="translate(521.14,1073.4) scale(1,0.9755)" font-size="29.948" fill="#ffffff" >Nr. LED-uri: 572</text>
<text transform="translate(86.39,1094.8) scale(1,1.0118)" font-size="40.367" fill="#111111" >Mărimea LED-ului</text>
<rect x="330" y="1274.6" width="294" height="95.7" fill="#0e0f12"/>
<circle cx="245.6" cy="1322.8" r="120.2" fill="#fff" stroke="#000000" stroke-width="1.8"/>
<text transform="translate(374.84,1311.9) scale(1,0.9539)" font-size="30.018" fill="#ffffff" >LED-uri cu lumină</text>
<text transform="translate(375.37,1348.2) scale(1,0.9539)" font-size="30.018" fill="#ffffff" >puternică</text>
<rect x="232.6" y="1208.3" width="25.7" height="141" fill="#fff" stroke="#000000" stroke-width="1.8"/>
<path d="M229.8,1190.8 V1177 A15.8,15.8 0 0 1 261.4,1177 V1190.8" fill="#fff" stroke="#000000" stroke-width="1.8"/>
<path d="M233.8,1190 V1178 A11.8,11.8 0 0 1 257.4,1176" fill="none" stroke="#000000" stroke-width="1.2"/>
<rect x="226.5" y="1190.8" width="37.5" height="17.5" fill="#fff" stroke="#000000" stroke-width="1.8"/>
<path d="M94.7,1360.9 L116.4,1368.4 C122.8,1367.8 142.8,1365.8 154.8,1365.0 C166.8,1364.2 179.2,1363.9 188.2,1363.8 C197.2,1363.7 202.0,1365.5 209.0,1364.2 C216.0,1362.9 223.1,1358.2 230.0,1355.9 C236.9,1353.6 241.5,1350.8 250.6,1350.6 C259.7,1350.4 273.6,1354.3 284.4,1355.0 C295.2,1355.7 303.6,1354.5 315.4,1355.0 C327.2,1355.5 341.2,1355.6 355.3,1357.7 C369.4,1359.8 392.3,1365.9 399.7,1367.5  L394.4,1374.6 L386.4,1383.5 L382,1391 C377.6,1390.6 363.5,1389.8 355.3,1388.4 C347.1,1387.0 342.2,1383.5 333.0,1382.6 C323.8,1381.7 309.6,1383.2 300.0,1383.0 C290.4,1382.8 284.2,1381.7 275.5,1381.5 C266.8,1381.3 257.7,1380.9 248.0,1381.8 C238.3,1382.7 226.0,1385.3 217.4,1386.8 C208.8,1388.3 204.2,1389.8 196.6,1391.0 C188.9,1392.2 178.5,1393.8 171.5,1394.3 C164.5,1394.8 160.4,1394.7 154.8,1394.3 C149.2,1393.9 143.3,1392.5 138.0,1391.8 C132.7,1391.1 126.6,1389.9 123.0,1390.0 C119.4,1390.1 117.5,1391.8 116.4,1392.2  L100.5,1371.7 Z" fill="#fff" stroke="#000000" stroke-width="1.9" stroke-linejoin="miter"/>
<path d="M94.7,1360.9 C98.3,1362.2 107.8,1365.8 116.4,1368.8 C125.0,1371.8 137.3,1376.5 146.5,1379.2 C155.7,1381.9 160.4,1383.8 171.5,1385.1 C182.6,1386.4 202.2,1387.1 213.3,1386.8 C224.4,1386.5 231.9,1384.3 238.3,1383.4 C244.8,1382.5 249.7,1381.8 252.0,1381.5 " fill="none" stroke="#000000" stroke-width="1.7"/>
<path d="M100.5,1371.7 C106.8,1374.2 128.2,1383.2 138.0,1386.8 C147.8,1390.4 155.5,1392.3 159.0,1393.4 " fill="none" stroke="#000000" stroke-width="1.7"/>
<path d="M116.4,1368.4 C118.9,1369.2 121.5,1372.6 131.4,1373.4 C141.3,1374.2 162.8,1372.7 175.7,1373.0 C188.6,1373.3 199.9,1373.9 209.0,1375.1 C218.1,1376.3 223.5,1378.6 230.0,1380.0 C236.5,1381.4 245.0,1382.8 248.0,1383.4 " fill="none" stroke="#000000" stroke-width="1.7"/>
<path d="M210.8,1364.2 C214.0,1365.0 223.8,1367.7 230.0,1369.2 C236.2,1370.7 245.0,1372.7 248.0,1373.4 " fill="none" stroke="#000000" stroke-width="1.7"/>
<path d="M248.9,1350.6 C254.8,1353.0 271.1,1359.9 284.4,1364.8 C297.7,1369.7 318.3,1376.5 328.7,1380.0 C339.1,1383.5 337.6,1384.3 346.5,1386.1 C355.4,1387.9 376.1,1390.2 382.0,1391.0 " fill="none" stroke="#000000" stroke-width="1.7"/>
<path d="M240.0,1355.0 C244.4,1355.9 251.8,1356.5 266.6,1360.4 C281.4,1364.3 308.7,1374.4 328.7,1378.2 C348.7,1382.0 376.8,1382.6 386.4,1383.5 " fill="none" stroke="#000000" stroke-width="1.7"/>
<path d="M284.4,1355.0 C290.3,1356.2 306.5,1358.8 319.8,1362.2 C333.1,1365.6 353.1,1372.0 364.2,1375.5 C375.3,1379.0 382.7,1382.2 386.4,1383.5 " fill="none" stroke="#000000" stroke-width="1.7"/>
<path d="M315.4,1355.0 C322.0,1356.8 342.1,1362.4 355.3,1365.7 C368.5,1369.0 387.9,1373.1 394.4,1374.6 " fill="none" stroke="#000000" stroke-width="1.7"/>
<path d="M240.0,1363.0 C244.4,1364.8 256.6,1370.9 266.6,1373.7 C276.6,1376.5 288.9,1378.5 300.0,1380.0 C311.1,1381.5 327.5,1382.2 333.0,1382.6 " fill="none" stroke="#000000" stroke-width="1.7"/>
<path d="M240.0,1372.8 C243.7,1373.2 256.1,1374.6 262.0,1375.5 C267.9,1376.4 272.8,1377.0 275.5,1378.0 C278.2,1379.0 277.6,1380.9 278.0,1381.5 " fill="none" stroke="#000000" stroke-width="1.7"/>
<rect x="235.89999999999998" y="1145.6" width="21.200000000000024" height="4.4" fill="#000000"/>
<path d="M230.14,1147.8 L236.09999999999997,1142.1799999999998 L236.09999999999997,1153.42 Z" fill="#000000" stroke="#000000" stroke-width="1.6" stroke-linejoin="round"/>
<path d="M262.86,1147.8 L256.90000000000003,1142.1799999999998 L256.90000000000003,1153.42 Z" fill="#000000" stroke="#000000" stroke-width="1.6" stroke-linejoin="round"/>
<rect x="274.2" y="1164.9" width="4.4" height="19.6" fill="#000000"/>
<path d="M276.4,1159.14 L270.0799999999999,1165.1000000000001 L282.72,1165.1000000000001 Z" fill="#000000" stroke="#000000" stroke-width="1.6" stroke-linejoin="round"/>
<path d="M276.4,1190.26 L270.0799999999999,1184.3 L282.72,1184.3 Z" fill="#000000" stroke="#000000" stroke-width="1.6" stroke-linejoin="round"/>
<rect x="201.20000000000002" y="1198.3999999999999" width="5.4" height="144.00000000000014" fill="#000000"/>
<path d="M203.9,1192.54 L197.18,1198.6 L210.62,1198.6 Z" fill="#000000" stroke="#000000" stroke-width="1.6" stroke-linejoin="round"/>
<path d="M203.9,1348.26 L197.18,1342.2 L210.62,1342.2 Z" fill="#000000" stroke="#000000" stroke-width="1.6" stroke-linejoin="round"/>
<text transform="translate(226.2,1132.5) scale(1,0.8362)" font-size="19.989" fill="#111111" >5mm</text>
<text transform="translate(288.2,1179.6) scale(1,0.8747)" font-size="19.941" fill="#111111" >5mm</text>
<text transform="translate(141.69,1281.7) scale(1,0.9656)" font-size="20.172" fill="#111111" >25mm</text>
<text transform="translate(1505.29,1053.8) scale(1,0.9736)" font-size="39.865" fill="#111111" >Spațiere</text>
<line x1="1363" y1="1092.3" x2="1760.5" y2="1092.3" stroke="#000000" stroke-width="3"/>
<line x1="1397.7" y1="1092.3" x2="1397.7" y2="1198" stroke="#000000" stroke-width="3"/>
<g transform="translate(1397.7,1114.2) rotate(135) scale(0.97)"><line x1="0" y1="0" x2="21" y2="0" stroke="#000000" stroke-width="3.6"/><path d="M21.5,-3.6 H27.6 A3.6,3.6 0 0 1 27.6,3.6 H21.5 Z" fill="#fff" stroke="#000000" stroke-width="1.7"/><rect x="19.4" y="-4.9" width="3.2" height="9.8" fill="#000000"/></g>
<g transform="translate(1397.7,1154.5) rotate(45) scale(0.97)"><line x1="0" y1="0" x2="21" y2="0" stroke="#000000" stroke-width="3.6"/><path d="M21.5,-3.6 H27.6 A3.6,3.6 0 0 1 27.6,3.6 H21.5 Z" fill="#fff" stroke="#000000" stroke-width="1.7"/><rect x="19.4" y="-4.9" width="3.2" height="9.8" fill="#000000"/></g>
<g transform="translate(1397.7,1198) rotate(135) scale(0.97)"><line x1="0" y1="0" x2="21" y2="0" stroke="#000000" stroke-width="3.6"/><path d="M21.5,-3.6 H27.6 A3.6,3.6 0 0 1 27.6,3.6 H21.5 Z" fill="#fff" stroke="#000000" stroke-width="1.7"/><rect x="19.4" y="-4.9" width="3.2" height="9.8" fill="#000000"/></g>
<line x1="1461.2" y1="1092.3" x2="1461.2" y2="1285.6" stroke="#000000" stroke-width="3"/>
<g transform="translate(1461.2,1157.5) rotate(45) scale(0.97)"><line x1="0" y1="0" x2="21" y2="0" stroke="#000000" stroke-width="3.6"/><path d="M21.5,-3.6 H27.6 A3.6,3.6 0 0 1 27.6,3.6 H21.5 Z" fill="#fff" stroke="#000000" stroke-width="1.7"/><rect x="19.4" y="-4.9" width="3.2" height="9.8" fill="#000000"/></g>
<g transform="translate(1461.2,1198) rotate(135) scale(0.97)"><line x1="0" y1="0" x2="21" y2="0" stroke="#000000" stroke-width="3.6"/><path d="M21.5,-3.6 H27.6 A3.6,3.6 0 0 1 27.6,3.6 H21.5 Z" fill="#fff" stroke="#000000" stroke-width="1.7"/><rect x="19.4" y="-4.9" width="3.2" height="9.8" fill="#000000"/></g>
<g transform="translate(1461.2,1243.8) rotate(45) scale(0.97)"><line x1="0" y1="0" x2="21" y2="0" stroke="#000000" stroke-width="3.6"/><path d="M21.5,-3.6 H27.6 A3.6,3.6 0 0 1 27.6,3.6 H21.5 Z" fill="#fff" stroke="#000000" stroke-width="1.7"/><rect x="19.4" y="-4.9" width="3.2" height="9.8" fill="#000000"/></g>
<g transform="translate(1461.2,1285.6) rotate(135) scale(0.97)"><line x1="0" y1="0" x2="21" y2="0" stroke="#000000" stroke-width="3.6"/><path d="M21.5,-3.6 H27.6 A3.6,3.6 0 0 1 27.6,3.6 H21.5 Z" fill="#fff" stroke="#000000" stroke-width="1.7"/><rect x="19.4" y="-4.9" width="3.2" height="9.8" fill="#000000"/></g>
<line x1="1530" y1="1092.3" x2="1530" y2="1458.8" stroke="#000000" stroke-width="3"/>
<g transform="translate(1530,1114.2) rotate(135) scale(0.97)"><line x1="0" y1="0" x2="21" y2="0" stroke="#000000" stroke-width="3.6"/><path d="M21.5,-3.6 H27.6 A3.6,3.6 0 0 1 27.6,3.6 H21.5 Z" fill="#fff" stroke="#000000" stroke-width="1.7"/><rect x="19.4" y="-4.9" width="3.2" height="9.8" fill="#000000"/></g>
<g transform="translate(1530,1154.5) rotate(45) scale(0.97)"><line x1="0" y1="0" x2="21" y2="0" stroke="#000000" stroke-width="3.6"/><path d="M21.5,-3.6 H27.6 A3.6,3.6 0 0 1 27.6,3.6 H21.5 Z" fill="#fff" stroke="#000000" stroke-width="1.7"/><rect x="19.4" y="-4.9" width="3.2" height="9.8" fill="#000000"/></g>
<g transform="translate(1530,1198) rotate(135) scale(0.97)"><line x1="0" y1="0" x2="21" y2="0" stroke="#000000" stroke-width="3.6"/><path d="M21.5,-3.6 H27.6 A3.6,3.6 0 0 1 27.6,3.6 H21.5 Z" fill="#fff" stroke="#000000" stroke-width="1.7"/><rect x="19.4" y="-4.9" width="3.2" height="9.8" fill="#000000"/></g>
<g transform="translate(1530,1243.8) rotate(45) scale(0.97)"><line x1="0" y1="0" x2="21" y2="0" stroke="#000000" stroke-width="3.6"/><path d="M21.5,-3.6 H27.6 A3.6,3.6 0 0 1 27.6,3.6 H21.5 Z" fill="#fff" stroke="#000000" stroke-width="1.7"/><rect x="19.4" y="-4.9" width="3.2" height="9.8" fill="#000000"/></g>
<g transform="translate(1530,1285.6) rotate(135) scale(0.97)"><line x1="0" y1="0" x2="21" y2="0" stroke="#000000" stroke-width="3.6"/><path d="M21.5,-3.6 H27.6 A3.6,3.6 0 0 1 27.6,3.6 H21.5 Z" fill="#fff" stroke="#000000" stroke-width="1.7"/><rect x="19.4" y="-4.9" width="3.2" height="9.8" fill="#000000"/></g>
<g transform="translate(1530,1329.4) rotate(45) scale(0.97)"><line x1="0" y1="0" x2="21" y2="0" stroke="#000000" stroke-width="3.6"/><path d="M21.5,-3.6 H27.6 A3.6,3.6 0 0 1 27.6,3.6 H21.5 Z" fill="#fff" stroke="#000000" stroke-width="1.7"/><rect x="19.4" y="-4.9" width="3.2" height="9.8" fill="#000000"/></g>
<g transform="translate(1530,1375.3) rotate(135) scale(0.97)"><line x1="0" y1="0" x2="21" y2="0" stroke="#000000" stroke-width="3.6"/><path d="M21.5,-3.6 H27.6 A3.6,3.6 0 0 1 27.6,3.6 H21.5 Z" fill="#fff" stroke="#000000" stroke-width="1.7"/><rect x="19.4" y="-4.9" width="3.2" height="9.8" fill="#000000"/></g>
<g transform="translate(1530,1415) rotate(45) scale(0.97)"><line x1="0" y1="0" x2="21" y2="0" stroke="#000000" stroke-width="3.6"/><path d="M21.5,-3.6 H27.6 A3.6,3.6 0 0 1 27.6,3.6 H21.5 Z" fill="#fff" stroke="#000000" stroke-width="1.7"/><rect x="19.4" y="-4.9" width="3.2" height="9.8" fill="#000000"/></g>
<g transform="translate(1530,1458.8) rotate(135) scale(0.97)"><line x1="0" y1="0" x2="21" y2="0" stroke="#000000" stroke-width="3.6"/><path d="M21.5,-3.6 H27.6 A3.6,3.6 0 0 1 27.6,3.6 H21.5 Z" fill="#fff" stroke="#000000" stroke-width="1.7"/><rect x="19.4" y="-4.9" width="3.2" height="9.8" fill="#000000"/></g>
<line x1="1593.5" y1="1092.3" x2="1593.5" y2="1198" stroke="#000000" stroke-width="3"/>
<g transform="translate(1593.5,1114.2) rotate(135) scale(0.97)"><line x1="0" y1="0" x2="21" y2="0" stroke="#000000" stroke-width="3.6"/><path d="M21.5,-3.6 H27.6 A3.6,3.6 0 0 1 27.6,3.6 H21.5 Z" fill="#fff" stroke="#000000" stroke-width="1.7"/><rect x="19.4" y="-4.9" width="3.2" height="9.8" fill="#000000"/></g>
<g transform="translate(1593.5,1154.5) rotate(45) scale(0.97)"><line x1="0" y1="0" x2="21" y2="0" stroke="#000000" stroke-width="3.6"/><path d="M21.5,-3.6 H27.6 A3.6,3.6 0 0 1 27.6,3.6 H21.5 Z" fill="#fff" stroke="#000000" stroke-width="1.7"/><rect x="19.4" y="-4.9" width="3.2" height="9.8" fill="#000000"/></g>
<g transform="translate(1593.5,1198) rotate(135) scale(0.97)"><line x1="0" y1="0" x2="21" y2="0" stroke="#000000" stroke-width="3.6"/><path d="M21.5,-3.6 H27.6 A3.6,3.6 0 0 1 27.6,3.6 H21.5 Z" fill="#fff" stroke="#000000" stroke-width="1.7"/><rect x="19.4" y="-4.9" width="3.2" height="9.8" fill="#000000"/></g>
<line x1="1656.6" y1="1092.3" x2="1656.6" y2="1285.6" stroke="#000000" stroke-width="3"/>
<g transform="translate(1656.6,1157.5) rotate(45) scale(0.97)"><line x1="0" y1="0" x2="21" y2="0" stroke="#000000" stroke-width="3.6"/><path d="M21.5,-3.6 H27.6 A3.6,3.6 0 0 1 27.6,3.6 H21.5 Z" fill="#fff" stroke="#000000" stroke-width="1.7"/><rect x="19.4" y="-4.9" width="3.2" height="9.8" fill="#000000"/></g>
<g transform="translate(1656.6,1198) rotate(135) scale(0.97)"><line x1="0" y1="0" x2="21" y2="0" stroke="#000000" stroke-width="3.6"/><path d="M21.5,-3.6 H27.6 A3.6,3.6 0 0 1 27.6,3.6 H21.5 Z" fill="#fff" stroke="#000000" stroke-width="1.7"/><rect x="19.4" y="-4.9" width="3.2" height="9.8" fill="#000000"/></g>
<g transform="translate(1656.6,1243.8) rotate(45) scale(0.97)"><line x1="0" y1="0" x2="21" y2="0" stroke="#000000" stroke-width="3.6"/><path d="M21.5,-3.6 H27.6 A3.6,3.6 0 0 1 27.6,3.6 H21.5 Z" fill="#fff" stroke="#000000" stroke-width="1.7"/><rect x="19.4" y="-4.9" width="3.2" height="9.8" fill="#000000"/></g>
<g transform="translate(1656.6,1285.6) rotate(135) scale(0.97)"><line x1="0" y1="0" x2="21" y2="0" stroke="#000000" stroke-width="3.6"/><path d="M21.5,-3.6 H27.6 A3.6,3.6 0 0 1 27.6,3.6 H21.5 Z" fill="#fff" stroke="#000000" stroke-width="1.7"/><rect x="19.4" y="-4.9" width="3.2" height="9.8" fill="#000000"/></g>
<line x1="1726.3" y1="1092.3" x2="1726.3" y2="1458.8" stroke="#000000" stroke-width="3"/>
<g transform="translate(1726.3,1114.2) rotate(135) scale(0.97)"><line x1="0" y1="0" x2="21" y2="0" stroke="#000000" stroke-width="3.6"/><path d="M21.5,-3.6 H27.6 A3.6,3.6 0 0 1 27.6,3.6 H21.5 Z" fill="#fff" stroke="#000000" stroke-width="1.7"/><rect x="19.4" y="-4.9" width="3.2" height="9.8" fill="#000000"/></g>
<g transform="translate(1726.3,1154.5) rotate(45) scale(0.97)"><line x1="0" y1="0" x2="21" y2="0" stroke="#000000" stroke-width="3.6"/><path d="M21.5,-3.6 H27.6 A3.6,3.6 0 0 1 27.6,3.6 H21.5 Z" fill="#fff" stroke="#000000" stroke-width="1.7"/><rect x="19.4" y="-4.9" width="3.2" height="9.8" fill="#000000"/></g>
<g transform="translate(1726.3,1198) rotate(135) scale(0.97)"><line x1="0" y1="0" x2="21" y2="0" stroke="#000000" stroke-width="3.6"/><path d="M21.5,-3.6 H27.6 A3.6,3.6 0 0 1 27.6,3.6 H21.5 Z" fill="#fff" stroke="#000000" stroke-width="1.7"/><rect x="19.4" y="-4.9" width="3.2" height="9.8" fill="#000000"/></g>
<g transform="translate(1726.3,1243.8) rotate(45) scale(0.97)"><line x1="0" y1="0" x2="21" y2="0" stroke="#000000" stroke-width="3.6"/><path d="M21.5,-3.6 H27.6 A3.6,3.6 0 0 1 27.6,3.6 H21.5 Z" fill="#fff" stroke="#000000" stroke-width="1.7"/><rect x="19.4" y="-4.9" width="3.2" height="9.8" fill="#000000"/></g>
<g transform="translate(1726.3,1285.6) rotate(135) scale(0.97)"><line x1="0" y1="0" x2="21" y2="0" stroke="#000000" stroke-width="3.6"/><path d="M21.5,-3.6 H27.6 A3.6,3.6 0 0 1 27.6,3.6 H21.5 Z" fill="#fff" stroke="#000000" stroke-width="1.7"/><rect x="19.4" y="-4.9" width="3.2" height="9.8" fill="#000000"/></g>
<g transform="translate(1726.3,1329.4) rotate(45) scale(0.97)"><line x1="0" y1="0" x2="21" y2="0" stroke="#000000" stroke-width="3.6"/><path d="M21.5,-3.6 H27.6 A3.6,3.6 0 0 1 27.6,3.6 H21.5 Z" fill="#fff" stroke="#000000" stroke-width="1.7"/><rect x="19.4" y="-4.9" width="3.2" height="9.8" fill="#000000"/></g>
<g transform="translate(1726.3,1375.3) rotate(135) scale(0.97)"><line x1="0" y1="0" x2="21" y2="0" stroke="#000000" stroke-width="3.6"/><path d="M21.5,-3.6 H27.6 A3.6,3.6 0 0 1 27.6,3.6 H21.5 Z" fill="#fff" stroke="#000000" stroke-width="1.7"/><rect x="19.4" y="-4.9" width="3.2" height="9.8" fill="#000000"/></g>
<g transform="translate(1726.3,1415) rotate(45) scale(0.97)"><line x1="0" y1="0" x2="21" y2="0" stroke="#000000" stroke-width="3.6"/><path d="M21.5,-3.6 H27.6 A3.6,3.6 0 0 1 27.6,3.6 H21.5 Z" fill="#fff" stroke="#000000" stroke-width="1.7"/><rect x="19.4" y="-4.9" width="3.2" height="9.8" fill="#000000"/></g>
<g transform="translate(1726.3,1458.8) rotate(135) scale(0.97)"><line x1="0" y1="0" x2="21" y2="0" stroke="#000000" stroke-width="3.6"/><path d="M21.5,-3.6 H27.6 A3.6,3.6 0 0 1 27.6,3.6 H21.5 Z" fill="#fff" stroke="#000000" stroke-width="1.7"/><rect x="19.4" y="-4.9" width="3.2" height="9.8" fill="#000000"/></g>
<path d="M1396.5,1157.4 L1192.7,1185.4 L1396.5,1195.8" fill="none" stroke="#000000" stroke-width="1.6"/>
<text transform="translate(1128.62,1189.6) scale(1,0.9618)" font-size="25.164" fill="#111111" >9cm</text>
<rect x="1778.05" y="1109.6000000000001" width="8.9" height="359.59999999999985" fill="#000000"/>
<path d="M1782.5,1102.64 L1772.98,1109.8000000000002 L1792.02,1109.8000000000002 Z" fill="#000000" stroke="#000000" stroke-width="1.6" stroke-linejoin="round"/>
<path d="M1782.5,1476.1599999999999 L1772.98,1468.9999999999998 L1792.02,1468.9999999999998 Z" fill="#000000" stroke="#000000" stroke-width="1.6" stroke-linejoin="round"/>
<text transform="translate(1809.92,1284.8) scale(1,0.9788)" font-size="25.022" fill="#111111" >0,7m</text>
<rect x="1606.1" y="1366.1" width="43.700000000000045" height="8.8" fill="#000000"/>
<path d="M1599.54,1370.5 L1606.3,1362.58 L1606.3,1378.42 Z" fill="#000000" stroke="#000000" stroke-width="1.6" stroke-linejoin="round"/>
<path d="M1656.36,1370.5 L1649.6,1362.58 L1649.6,1378.42 Z" fill="#000000" stroke="#000000" stroke-width="1.6" stroke-linejoin="round"/>
<text transform="translate(1598.3,1408.8) scale(1,1.0055)" font-size="25.008" fill="#111111" >16cm</text>
<text transform="translate(204.76,1561.1) scale(1,1.0394)" font-size="39.993" fill="#111111" >*Dimensiunile produsului sunt aproximative și variază din cauza îndoiturilor din cablu.</text>
<path d="M53,421 C52,392 72,366 102,351 C120,342 140,340 160,343 C185,347 200,356 226,357 C245,358 262,356 275,359 C295,366 306,385 310,405 C313,428 311,450 303,466 C296,478 285,482 271,483 L216,483.5 C200,485 190,488 175,493 C155,500 138,503.7 125,503.5 C100,502 80,490 66,470 C57,456 53,440 53,421 Z" fill="#dfdfdf" stroke="#a9a9a9" stroke-width="0.9"/>
<path d="M68,428 C68,405 82,386 98,376 C115,366 135,364 160,364 C180,364 198,360 212,360.6 C226,361 240,362 253,375 C262,385 275,392 288,405 C300,420 303,440 300,458 C296,475 285,480 271,482 L90,482 C75,470 68,450 68,428 Z" fill="#d3d3d3" stroke="#bdbdbd" stroke-width="1.2"/>
<path d="M98,376 C115,366 135,364 160,364 C180,364 198,360 212,360.6 C226,361 240,362 253,375 C240,370 225,372 212,370 C195,368 175,372 160,373 C135,374 115,378 98,376 Z" fill="#dadada"/>
<path d="M100,470 C93,455 92,440 94,428 C95,416 97,410 101,404 C108,392 118,384 130,380 C145,376 160,375 180,376 C195,377 205,381 218,385 C228,389 240,390 257.6,384.3 C266,386 275,394 284,404 C292,414 297,428 296,444 L294,470 L95,470 Z" fill="#c1c1c1" stroke="#b3b3b3" stroke-width="1.6"/>
<path d="M86.5,416.3 C90,410 98,407 108,407 C115,407 120,411 122,416.3 Z" fill="#d8d8d8"/>
<path d="M233,389 C236,383 244,381 252,382 C257,383 260,386 262,389 Z" fill="#d6d6d6"/>
<path d="M131,395 A5,5 0 1 0 134,404 A4,4 0 1 1 131,395 Z" fill="#ededed"/>
<circle cx="203.3" cy="398.9" r="2.2" fill="#f0f0f0"/>
<circle cx="256.7" cy="398.9" r="2.2" fill="#f0f0f0"/>
<circle cx="159" cy="376" r="1" fill="#f0f0f0"/>
<circle cx="152" cy="431" r="1.2" fill="#f0f0f0"/>
<circle cx="148" cy="349" r="1" fill="#f0f0f0"/>
<circle cx="78" cy="383" r="1" fill="#f0f0f0"/>
<circle cx="68" cy="405" r="1" fill="#f0f0f0"/>
<circle cx="84" cy="434" r="1.4" fill="#f0f0f0"/>
<circle cx="266" cy="369" r="1.2" fill="#f0f0f0"/>
<circle cx="292" cy="395" r="1" fill="#f0f0f0"/>
<circle cx="210" cy="410" r="1" fill="#f0f0f0"/>
<path d="M110,470 C130,468 150,458 172,452 C190,448 215,458 240,462 L296,464 L296,482 L110,482 Z" fill="#d9d9d9"/>
<path d="M200,470 C215,462 235,458 260,460 L296,462 L296,480 L200,480 Z" fill="#e3e3e3"/>
<path d="M241.0,405.3 L247.3,423.7 L234.7,423.7 Z M241.0,419.5 L249.2,437.8 L232.8,437.8 Z M241.0,433.6 L251.0,452.0 L231.0,452.0 Z " fill="#d2d2d2"/>
<path d="M262.5,410.8 L269.8,427.0 L255.2,427.0 Z M262.5,423.3 L271.9,439.5 L253.1,439.5 Z M262.5,435.8 L274.0,452.0 L251.0,452.0 Z " fill="#cbcbcb"/>
<path d="M214.0,430.0 L219.1,442.4 L208.9,442.4 Z M214.0,439.6 L221.0,452.0 L207.0,452.0 Z " fill="#cfcfcf"/>
<path d="M70.5,440.0 L77.2,449.1 L63.9,449.1 Z M70.5,447.0 L79.1,456.0 L61.9,456.0 Z M70.5,453.9 L81.0,463.0 L60.0,463.0 Z " fill="#f2f2f2"/><rect x="69.5" y="463.0" width="2" height="13.0" fill="#f2f2f2"/>
<path d="M248.5,439.1 L256.0,449.2 L241.0,449.2 Z M248.5,446.9 L258.2,456.9 L238.8,456.9 Z M248.5,454.6 L260.4,464.7 L236.6,464.7 Z " fill="#f4f4f4"/><rect x="247.5" y="464.7" width="2" height="13.3" fill="#f4f4f4"/>
<path d="M280.5,419.0 L288.5,430.9 L272.5,430.9 Z M280.5,428.1 L290.4,440.0 L270.6,440.0 Z M280.5,437.3 L292.3,449.2 L268.7,449.2 Z M280.5,446.4 L294.2,458.3 L266.8,458.3 Z " fill="#f6f6f6"/><rect x="279.5" y="458.3" width="2" height="21.7" fill="#f6f6f6"/>
<path d="M296.9,440.0 L302.7,449.7 L291.1,449.7 Z M296.9,447.5 L304.3,457.2 L289.5,457.2 Z M296.9,455.0 L306.0,464.7 L287.8,464.7 Z " fill="#f1f1f1"/><rect x="295.9" y="464.7" width="2" height="11.3" fill="#f1f1f1"/>
<path d="M121,446 C118,441 117,438 116.5,434 M119,441 L116,440 M129,446 C132,441 133,438 134,434 M131,441 L134,440" fill="none" stroke="#e4e4e4" stroke-width="1.3"/>
<ellipse cx="125" cy="448" rx="3.6" ry="4.5" fill="#e2e2e2"/>
<path d="M121,450 L129,450 L132,466 L119,466 Z" fill="#e2e2e2"/>
<path d="M175,446 C171,441 168,438 165,433.6 M171,441 L166.5,441.5 M168.5,437.5 L165,437 M182,446 C186,441 188,438 190,433.6 M186,441 L190.5,441.5 M188.5,437.5 L191,436" fill="none" stroke="#f0f0f0" stroke-width="1.4"/>
<ellipse cx="178.5" cy="448.5" rx="3.8" ry="4.8" fill="#f0f0f0"/>
<path d="M174,450 L183,450 L186,461 L206,459 C212,460 214,465 212,472 L210,490 L207,490 L206,477 L190,479 L186,491 L182,491 L180,478 L176,466 Z" fill="#f0f0f0"/>
<path d="M66,470 C80,466 100,468 128,484 C150,485 170,482 190,484 C205,486 215,478 230,476 C250,472 275,474 300,468 C296,478 285,482 271,483 L216,483.5 C200,485 190,488 175,493 C155,500 138,503.7 125,503.5 C100,502 80,490 66,470 Z" fill="#f3f3f3"/>
<path d="M216.5,483 C216,474 224,468 232,470 C238,466 248,467 252,472 C260,468 270,471 274,483 Z" fill="#f7f7f7"/>
<rect x="112" y="458.7" width="7.4" height="6" fill="#f0f0f0"/>
<path d="M83.3,474.7 L88,463.8 H125 L128.5,474.7 Z" fill="#f8f8f8"/>
<rect x="85.2" y="474.7" width="42.4" height="24" fill="#f4f4f4"/>
<rect x="91.1" y="482" width="6.4" height="11" fill="#bfbfbf"/>
<rect x="103" y="482" width="6.4" height="11" fill="#bfbfbf"/>
<path d="M115.3,498.5 V490 C115.3,486 122.6,486 122.6,490 V498.5 Z" fill="#cfcfcf"/>
<path d="M199.5,524.4 V500.6 H215.2 M199.5,512.5 H212.6 M220.2,500.6 V524.4 H237.7 M240.2,500.6 V524.4 M247.7,524.4 V500.6 H256 C266,500.6 266,516.3 256,516.3 H247.7 M270.3,524.4 V500.6 H278.5 C288.5,500.6 288.5,516.3 278.5,516.3 H270.3 M287.8,500.6 L301,513 V524.4 M310.4,499 L301,513" fill="none" stroke="#999999" stroke-width="1.3"/>
<circle cx="308.5" cy="522" r="1.6" fill="none" stroke="#a5a5a5" stroke-width="0.6"/>
<g transform="translate(140,490) scale(0.12527)"><path d="M228,455 C200,405 110,420 105,545 C100,650 170,680 235,610 M262,640 C280,520 300,400 320,330 C335,300 345,350 325,420 C305,500 285,590 285,650 M290,580 C315,470 390,420 430,470 C455,510 420,600 445,650 M470,470 C490,440 520,445 520,480 C530,600 510,640 510,660 M520,500 C540,450 580,440 605,455 M612,455 C605,540 600,620 625,650 C660,660 690,620 700,560 M688,410 L692,412 M860,420 C800,390 760,440 800,480 C850,520 900,560 870,640 C840,690 780,660 760,620 M1075,330 C1050,450 1010,560 1010,640 C1010,690 1060,680 1090,640 M940,500 L1110,490 M1140,460 C1150,520 1140,600 1140,660 M1145,520 C1180,440 1240,430 1250,480 C1255,540 1240,600 1245,655 M1250,520 C1290,440 1350,430 1360,480 C1370,540 1350,600 1380,650 C1400,660 1420,640 1440,610 M1620,480 C1590,410 1500,420 1490,530 C1485,640 1570,660 1610,560 C1620,520 1625,480 1630,470 C1620,560 1625,640 1660,650 M1760,400 C1700,370 1650,420 1680,470 C1720,520 1790,560 1760,640 C1730,690 1680,670 1660,620 M1740,530 L1820,520" fill="none" stroke="#acacac" stroke-width="50" stroke-linecap="round" stroke-linejoin="round"/></g>
</svg>
</body></html>
